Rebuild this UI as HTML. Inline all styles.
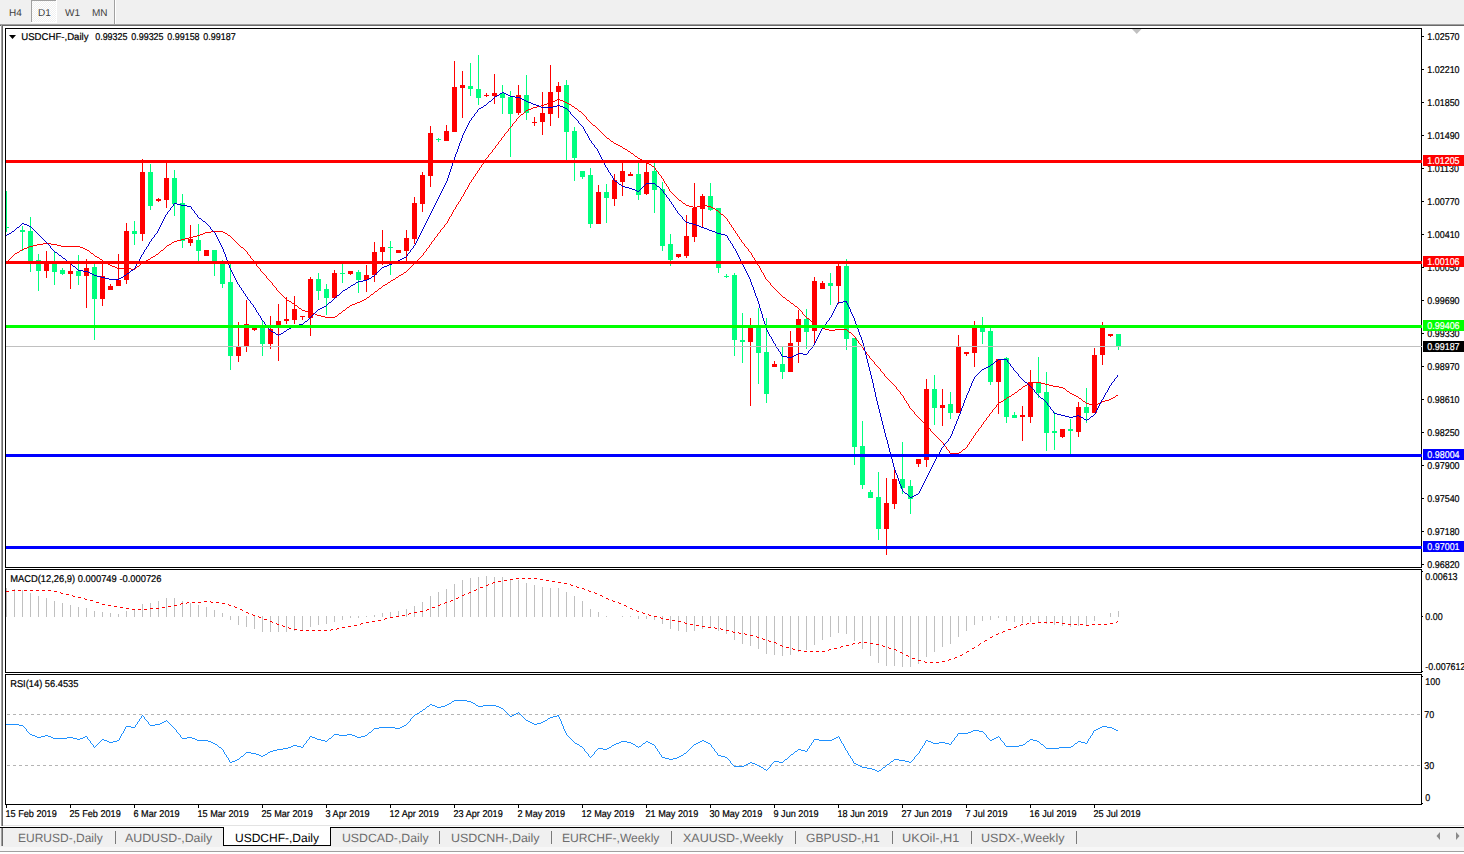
<!DOCTYPE html>
<html><head><meta charset="utf-8"><title>USDCHF Daily</title>
<style>html,body{margin:0;padding:0;background:#fff;}body{width:1464px;height:854px;overflow:hidden;position:relative;font-family:"Liberation Sans",sans-serif;}</style>
</head><body>
<svg width="1464" height="854" viewBox="0 0 1464 854" style="position:absolute;left:0;top:0">
<g shape-rendering="crispEdges">
<rect x="0" y="0" width="1464" height="854" fill="#ffffff"/>
<rect x="0" y="0" width="1464" height="24" fill="#f0f0f0"/>
<defs><pattern id="chk" x="0" y="0" width="2" height="2" patternUnits="userSpaceOnUse"><rect x="0" y="0" width="2" height="2" fill="#ffffff"/><rect x="1" y="0" width="1" height="1" fill="#f0f0f0"/><rect x="0" y="1" width="1" height="1" fill="#f0f0f0"/></pattern></defs>
<rect x="31" y="0" width="26" height="23" fill="url(#chk)"/>
<rect x="31" y="0" width="25" height="1" fill="#a0a0a0"/>
<rect x="31" y="0" width="1" height="22" fill="#a0a0a0"/>
<rect x="56" y="0" width="1" height="23" fill="#ffffff"/>
<rect x="31" y="22" width="26" height="1" fill="#ffffff"/>
<rect x="114" y="0" width="1" height="24" fill="#a0a0a0"/>
<rect x="115" y="0" width="1" height="24" fill="#ffffff"/>
<rect x="0" y="24" width="1464" height="1" fill="#a0a0a0"/>
<rect x="0" y="25" width="1464" height="1" fill="#696969"/>
<rect x="0" y="26" width="1" height="801" fill="#ffffff"/>
<rect x="1" y="24" width="1" height="802" fill="#a0a0a0"/>
<rect x="2" y="25" width="1" height="801" fill="#696969"/>
<rect x="3" y="825" width="1461" height="1" fill="#e3e3e3"/>
<rect x="0" y="827" width="1464" height="1" fill="#000000"/>
<rect x="0" y="828" width="1464" height="19" fill="#f0f0f0"/>
<rect x="1" y="828" width="1" height="18" fill="#a0a0a0"/>
<rect x="2" y="828" width="1" height="18" fill="#696969"/>
<rect x="0" y="847" width="1464" height="4" fill="#f7f7f7"/>
<rect x="0" y="851" width="1464" height="1" fill="#a0a0a0"/>
<rect x="0" y="852" width="1464" height="2" fill="#ffffff"/>
<rect x="223" y="827" width="108" height="19" fill="#ffffff"/>
<rect x="223" y="827" width="1" height="19" fill="#000000"/>
<rect x="330" y="827" width="1" height="19" fill="#000000"/>
<rect x="223" y="845" width="108" height="1" fill="#000000"/>
<rect x="224" y="827" width="106" height="1" fill="#ffffff"/>
<rect x="115" y="831" width="1" height="13" fill="#7a7a7a"/>
<rect x="439" y="831" width="1" height="13" fill="#7a7a7a"/>
<rect x="551" y="831" width="1" height="13" fill="#7a7a7a"/>
<rect x="671" y="831" width="1" height="13" fill="#7a7a7a"/>
<rect x="795" y="831" width="1" height="13" fill="#7a7a7a"/>
<rect x="892" y="831" width="1" height="13" fill="#7a7a7a"/>
<rect x="971" y="831" width="1" height="13" fill="#7a7a7a"/>
<rect x="1076" y="831" width="1" height="13" fill="#7a7a7a"/>
</g>
<path d="M1436.5,836 L1440,832 L1440,840 Z" fill="#8a8a8a"/>
<path d="M1459.5,836 L1456,832 L1456,840 Z" fill="#8a8a8a"/>
<g shape-rendering="crispEdges" fill="none" stroke="#000" stroke-width="1">
<rect x="5.5" y="28.5" width="1416" height="539"/>
<rect x="5.5" y="569.5" width="1416" height="103"/>
<rect x="5.5" y="674.5" width="1416" height="130"/>
</g>
<defs><clipPath id="cm"><rect x="6" y="29" width="1415" height="538"/></clipPath><clipPath id="cd"><rect x="6" y="570" width="1415" height="102"/></clipPath><clipPath id="cr"><rect x="6" y="675" width="1415" height="129"/></clipPath></defs>
<g clip-path="url(#cm)">
<path d="M1132,29 L1141.5,29 L1136.75,34 Z" fill="#c0c0c0"/>
<rect x="6" y="346" width="1415" height="1" fill="#c0c0c0" shape-rendering="crispEdges"/>
<g shape-rendering="crispEdges">
<rect x="6" y="191" width="1" height="41" fill="#00ff7f"/>
<rect x="4" y="227" width="5" height="1" fill="#00ff7f"/>
<rect x="22" y="226" width="1" height="25" fill="#00ff7f"/>
<rect x="20" y="230" width="5" height="2" fill="#00ff7f"/>
<rect x="30" y="217" width="1" height="55" fill="#00ff7f"/>
<rect x="28" y="231" width="5" height="30" fill="#00ff7f"/>
<rect x="38" y="254" width="1" height="37" fill="#00ff7f"/>
<rect x="36" y="260" width="5" height="11" fill="#00ff7f"/>
<rect x="46" y="251" width="1" height="27" fill="#ff0000"/>
<rect x="44" y="263" width="5" height="8" fill="#ff0000"/>
<rect x="54" y="252" width="1" height="33" fill="#00ff7f"/>
<rect x="52" y="264" width="5" height="8" fill="#00ff7f"/>
<rect x="62" y="268" width="1" height="7" fill="#00ff7f"/>
<rect x="60" y="270" width="5" height="4" fill="#00ff7f"/>
<rect x="70" y="264" width="1" height="25" fill="#ff0000"/>
<rect x="68" y="271" width="5" height="3" fill="#ff0000"/>
<rect x="78" y="255" width="1" height="30" fill="#00ff7f"/>
<rect x="76" y="271" width="5" height="5" fill="#00ff7f"/>
<rect x="86" y="259" width="1" height="49" fill="#ff0000"/>
<rect x="84" y="268" width="5" height="8" fill="#ff0000"/>
<rect x="94" y="264" width="1" height="76" fill="#00ff7f"/>
<rect x="92" y="267" width="5" height="32" fill="#00ff7f"/>
<rect x="102" y="264" width="1" height="42" fill="#ff0000"/>
<rect x="100" y="276" width="5" height="23" fill="#ff0000"/>
<rect x="110" y="284" width="1" height="6" fill="#ff0000"/>
<rect x="108" y="286" width="5" height="4" fill="#ff0000"/>
<rect x="118" y="254" width="1" height="32" fill="#ff0000"/>
<rect x="116" y="280" width="5" height="6" fill="#ff0000"/>
<rect x="126" y="223" width="1" height="61" fill="#ff0000"/>
<rect x="124" y="231" width="5" height="49" fill="#ff0000"/>
<rect x="134" y="221" width="1" height="24" fill="#00ff7f"/>
<rect x="132" y="231" width="5" height="3" fill="#00ff7f"/>
<rect x="142" y="159" width="1" height="82" fill="#ff0000"/>
<rect x="140" y="172" width="5" height="62" fill="#ff0000"/>
<rect x="150" y="164" width="1" height="46" fill="#00ff7f"/>
<rect x="148" y="172" width="5" height="34" fill="#00ff7f"/>
<rect x="158" y="198" width="1" height="4" fill="#ff0000"/>
<rect x="156" y="199" width="5" height="2" fill="#ff0000"/>
<rect x="166" y="162" width="1" height="46" fill="#ff0000"/>
<rect x="164" y="178" width="5" height="22" fill="#ff0000"/>
<rect x="174" y="170" width="1" height="46" fill="#00ff7f"/>
<rect x="172" y="178" width="5" height="26" fill="#00ff7f"/>
<rect x="182" y="194" width="1" height="54" fill="#00ff7f"/>
<rect x="180" y="203" width="5" height="38" fill="#00ff7f"/>
<rect x="190" y="225" width="1" height="21" fill="#ff0000"/>
<rect x="188" y="239" width="5" height="4" fill="#ff0000"/>
<rect x="198" y="224" width="1" height="37" fill="#00ff7f"/>
<rect x="196" y="240" width="5" height="11" fill="#00ff7f"/>
<rect x="206" y="250" width="1" height="6" fill="#ff0000"/>
<rect x="204" y="250" width="5" height="6" fill="#ff0000"/>
<rect x="214" y="250" width="1" height="26" fill="#00ff7f"/>
<rect x="212" y="250" width="5" height="11" fill="#00ff7f"/>
<rect x="222" y="260" width="1" height="28" fill="#00ff7f"/>
<rect x="220" y="263" width="5" height="21" fill="#00ff7f"/>
<rect x="230" y="264" width="1" height="106" fill="#00ff7f"/>
<rect x="228" y="282" width="5" height="74" fill="#00ff7f"/>
<rect x="238" y="322" width="1" height="40" fill="#ff0000"/>
<rect x="236" y="346" width="5" height="10" fill="#ff0000"/>
<rect x="246" y="300" width="1" height="52" fill="#ff0000"/>
<rect x="244" y="324" width="5" height="22" fill="#ff0000"/>
<rect x="254" y="328" width="1" height="3" fill="#ff0000"/>
<rect x="252" y="328" width="5" height="2" fill="#ff0000"/>
<rect x="262" y="320" width="1" height="36" fill="#00ff7f"/>
<rect x="260" y="326" width="5" height="18" fill="#00ff7f"/>
<rect x="270" y="316" width="1" height="33" fill="#ff0000"/>
<rect x="268" y="329" width="5" height="15" fill="#ff0000"/>
<rect x="278" y="304" width="1" height="57" fill="#ff0000"/>
<rect x="276" y="321" width="5" height="7" fill="#ff0000"/>
<rect x="286" y="297" width="1" height="27" fill="#ff0000"/>
<rect x="284" y="319" width="5" height="2" fill="#ff0000"/>
<rect x="294" y="296" width="1" height="28" fill="#ff0000"/>
<rect x="292" y="309" width="5" height="11" fill="#ff0000"/>
<rect x="302" y="316" width="1" height="4" fill="#ff0000"/>
<rect x="300" y="316" width="5" height="1" fill="#ff0000"/>
<rect x="310" y="277" width="1" height="59" fill="#ff0000"/>
<rect x="308" y="279" width="5" height="39" fill="#ff0000"/>
<rect x="318" y="273" width="1" height="27" fill="#00ff7f"/>
<rect x="316" y="279" width="5" height="12" fill="#00ff7f"/>
<rect x="326" y="284" width="1" height="31" fill="#00ff7f"/>
<rect x="324" y="289" width="5" height="9" fill="#00ff7f"/>
<rect x="334" y="270" width="1" height="28" fill="#ff0000"/>
<rect x="332" y="273" width="5" height="25" fill="#ff0000"/>
<rect x="342" y="264" width="1" height="19" fill="#00ff7f"/>
<rect x="340" y="273" width="5" height="1" fill="#00ff7f"/>
<rect x="350" y="271" width="1" height="4" fill="#ff0000"/>
<rect x="348" y="271" width="5" height="3" fill="#ff0000"/>
<rect x="358" y="270" width="1" height="23" fill="#00ff7f"/>
<rect x="356" y="272" width="5" height="8" fill="#00ff7f"/>
<rect x="366" y="265" width="1" height="27" fill="#ff0000"/>
<rect x="364" y="275" width="5" height="5" fill="#ff0000"/>
<rect x="374" y="242" width="1" height="40" fill="#ff0000"/>
<rect x="372" y="252" width="5" height="23" fill="#ff0000"/>
<rect x="382" y="230" width="1" height="35" fill="#ff0000"/>
<rect x="380" y="247" width="5" height="5" fill="#ff0000"/>
<rect x="390" y="241" width="1" height="34" fill="#00ff7f"/>
<rect x="388" y="247" width="5" height="1" fill="#00ff7f"/>
<rect x="398" y="250" width="1" height="3" fill="#ff0000"/>
<rect x="396" y="250" width="5" height="3" fill="#ff0000"/>
<rect x="406" y="230" width="1" height="34" fill="#ff0000"/>
<rect x="404" y="238" width="5" height="13" fill="#ff0000"/>
<rect x="414" y="197" width="1" height="47" fill="#ff0000"/>
<rect x="412" y="203" width="5" height="36" fill="#ff0000"/>
<rect x="422" y="172" width="1" height="40" fill="#ff0000"/>
<rect x="420" y="175" width="5" height="29" fill="#ff0000"/>
<rect x="430" y="126" width="1" height="61" fill="#ff0000"/>
<rect x="428" y="133" width="5" height="43" fill="#ff0000"/>
<rect x="438" y="138" width="1" height="4" fill="#00ff7f"/>
<rect x="436" y="139" width="5" height="1" fill="#00ff7f"/>
<rect x="446" y="125" width="1" height="16" fill="#ff0000"/>
<rect x="444" y="131" width="5" height="10" fill="#ff0000"/>
<rect x="454" y="61" width="1" height="71" fill="#ff0000"/>
<rect x="452" y="87" width="5" height="45" fill="#ff0000"/>
<rect x="462" y="71" width="1" height="47" fill="#ff0000"/>
<rect x="460" y="85" width="5" height="3" fill="#ff0000"/>
<rect x="470" y="63" width="1" height="33" fill="#00ff7f"/>
<rect x="468" y="86" width="5" height="3" fill="#00ff7f"/>
<rect x="478" y="55" width="1" height="50" fill="#00ff7f"/>
<rect x="476" y="89" width="5" height="9" fill="#00ff7f"/>
<rect x="486" y="93" width="1" height="4" fill="#ff0000"/>
<rect x="484" y="95" width="5" height="1" fill="#ff0000"/>
<rect x="494" y="74" width="1" height="30" fill="#ff0000"/>
<rect x="492" y="93" width="5" height="3" fill="#ff0000"/>
<rect x="502" y="85" width="1" height="29" fill="#00ff7f"/>
<rect x="500" y="93" width="5" height="5" fill="#00ff7f"/>
<rect x="510" y="91" width="1" height="66" fill="#00ff7f"/>
<rect x="508" y="97" width="5" height="17" fill="#00ff7f"/>
<rect x="518" y="85" width="1" height="30" fill="#ff0000"/>
<rect x="516" y="95" width="5" height="18" fill="#ff0000"/>
<rect x="526" y="75" width="1" height="45" fill="#00ff7f"/>
<rect x="524" y="95" width="5" height="18" fill="#00ff7f"/>
<rect x="534" y="117" width="1" height="9" fill="#ff0000"/>
<rect x="532" y="122" width="5" height="1" fill="#ff0000"/>
<rect x="542" y="92" width="1" height="43" fill="#ff0000"/>
<rect x="540" y="113" width="5" height="9" fill="#ff0000"/>
<rect x="550" y="65" width="1" height="61" fill="#ff0000"/>
<rect x="548" y="92" width="5" height="22" fill="#ff0000"/>
<rect x="558" y="82" width="1" height="36" fill="#ff0000"/>
<rect x="556" y="86" width="5" height="6" fill="#ff0000"/>
<rect x="566" y="80" width="1" height="81" fill="#00ff7f"/>
<rect x="564" y="85" width="5" height="47" fill="#00ff7f"/>
<rect x="574" y="127" width="1" height="54" fill="#00ff7f"/>
<rect x="572" y="131" width="5" height="27" fill="#00ff7f"/>
<rect x="582" y="171" width="1" height="8" fill="#00ff7f"/>
<rect x="580" y="171" width="5" height="6" fill="#00ff7f"/>
<rect x="590" y="168" width="1" height="60" fill="#00ff7f"/>
<rect x="588" y="175" width="5" height="49" fill="#00ff7f"/>
<rect x="598" y="185" width="1" height="39" fill="#ff0000"/>
<rect x="596" y="192" width="5" height="32" fill="#ff0000"/>
<rect x="606" y="184" width="1" height="39" fill="#00ff7f"/>
<rect x="604" y="192" width="5" height="6" fill="#00ff7f"/>
<rect x="614" y="174" width="1" height="32" fill="#ff0000"/>
<rect x="612" y="180" width="5" height="19" fill="#ff0000"/>
<rect x="622" y="162" width="1" height="34" fill="#ff0000"/>
<rect x="620" y="171" width="5" height="11" fill="#ff0000"/>
<rect x="630" y="172" width="1" height="4" fill="#ff0000"/>
<rect x="628" y="174" width="5" height="2" fill="#ff0000"/>
<rect x="638" y="162" width="1" height="38" fill="#00ff7f"/>
<rect x="636" y="174" width="5" height="21" fill="#00ff7f"/>
<rect x="646" y="162" width="1" height="33" fill="#ff0000"/>
<rect x="644" y="172" width="5" height="22" fill="#ff0000"/>
<rect x="654" y="163" width="1" height="50" fill="#00ff7f"/>
<rect x="652" y="171" width="5" height="19" fill="#00ff7f"/>
<rect x="662" y="182" width="1" height="69" fill="#00ff7f"/>
<rect x="660" y="189" width="5" height="57" fill="#00ff7f"/>
<rect x="670" y="234" width="1" height="32" fill="#00ff7f"/>
<rect x="668" y="244" width="5" height="16" fill="#00ff7f"/>
<rect x="678" y="254" width="1" height="4" fill="#ff0000"/>
<rect x="676" y="254" width="5" height="3" fill="#ff0000"/>
<rect x="686" y="215" width="1" height="43" fill="#ff0000"/>
<rect x="684" y="236" width="5" height="20" fill="#ff0000"/>
<rect x="694" y="183" width="1" height="59" fill="#ff0000"/>
<rect x="692" y="208" width="5" height="29" fill="#ff0000"/>
<rect x="702" y="194" width="1" height="33" fill="#ff0000"/>
<rect x="700" y="196" width="5" height="13" fill="#ff0000"/>
<rect x="710" y="183" width="1" height="28" fill="#00ff7f"/>
<rect x="708" y="196" width="5" height="14" fill="#00ff7f"/>
<rect x="718" y="208" width="1" height="65" fill="#00ff7f"/>
<rect x="716" y="208" width="5" height="60" fill="#00ff7f"/>
<rect x="726" y="274" width="1" height="4" fill="#00ff7f"/>
<rect x="724" y="276" width="5" height="1" fill="#00ff7f"/>
<rect x="734" y="273" width="1" height="83" fill="#00ff7f"/>
<rect x="732" y="275" width="5" height="65" fill="#00ff7f"/>
<rect x="742" y="313" width="1" height="50" fill="#00ff7f"/>
<rect x="740" y="340" width="5" height="2" fill="#00ff7f"/>
<rect x="750" y="318" width="1" height="88" fill="#ff0000"/>
<rect x="748" y="328" width="5" height="14" fill="#ff0000"/>
<rect x="758" y="308" width="1" height="76" fill="#00ff7f"/>
<rect x="756" y="326" width="5" height="27" fill="#00ff7f"/>
<rect x="766" y="318" width="1" height="85" fill="#00ff7f"/>
<rect x="764" y="352" width="5" height="42" fill="#00ff7f"/>
<rect x="774" y="361" width="1" height="6" fill="#ff0000"/>
<rect x="772" y="364" width="5" height="3" fill="#ff0000"/>
<rect x="782" y="346" width="1" height="33" fill="#00ff7f"/>
<rect x="780" y="364" width="5" height="8" fill="#00ff7f"/>
<rect x="790" y="331" width="1" height="41" fill="#ff0000"/>
<rect x="788" y="343" width="5" height="29" fill="#ff0000"/>
<rect x="798" y="310" width="1" height="53" fill="#ff0000"/>
<rect x="796" y="319" width="5" height="23" fill="#ff0000"/>
<rect x="806" y="309" width="1" height="40" fill="#00ff7f"/>
<rect x="804" y="319" width="5" height="13" fill="#00ff7f"/>
<rect x="814" y="277" width="1" height="66" fill="#ff0000"/>
<rect x="812" y="281" width="5" height="50" fill="#ff0000"/>
<rect x="822" y="281" width="1" height="8" fill="#ff0000"/>
<rect x="820" y="283" width="5" height="6" fill="#ff0000"/>
<rect x="830" y="273" width="1" height="32" fill="#00ff7f"/>
<rect x="828" y="283" width="5" height="3" fill="#00ff7f"/>
<rect x="838" y="264" width="1" height="40" fill="#ff0000"/>
<rect x="836" y="266" width="5" height="20" fill="#ff0000"/>
<rect x="846" y="259" width="1" height="91" fill="#00ff7f"/>
<rect x="844" y="266" width="5" height="73" fill="#00ff7f"/>
<rect x="854" y="338" width="1" height="127" fill="#00ff7f"/>
<rect x="852" y="338" width="5" height="109" fill="#00ff7f"/>
<rect x="862" y="421" width="1" height="68" fill="#00ff7f"/>
<rect x="860" y="446" width="5" height="39" fill="#00ff7f"/>
<rect x="870" y="490" width="1" height="8" fill="#00ff7f"/>
<rect x="868" y="492" width="5" height="6" fill="#00ff7f"/>
<rect x="878" y="472" width="1" height="68" fill="#00ff7f"/>
<rect x="876" y="497" width="5" height="32" fill="#00ff7f"/>
<rect x="886" y="478" width="1" height="77" fill="#ff0000"/>
<rect x="884" y="503" width="5" height="26" fill="#ff0000"/>
<rect x="894" y="470" width="1" height="39" fill="#ff0000"/>
<rect x="892" y="479" width="5" height="25" fill="#ff0000"/>
<rect x="902" y="442" width="1" height="52" fill="#00ff7f"/>
<rect x="900" y="479" width="5" height="9" fill="#00ff7f"/>
<rect x="910" y="480" width="1" height="34" fill="#00ff7f"/>
<rect x="908" y="486" width="5" height="13" fill="#00ff7f"/>
<rect x="918" y="459" width="1" height="8" fill="#ff0000"/>
<rect x="916" y="459" width="5" height="5" fill="#ff0000"/>
<rect x="926" y="379" width="1" height="88" fill="#ff0000"/>
<rect x="924" y="389" width="5" height="71" fill="#ff0000"/>
<rect x="934" y="375" width="1" height="50" fill="#00ff7f"/>
<rect x="932" y="389" width="5" height="19" fill="#00ff7f"/>
<rect x="942" y="389" width="1" height="37" fill="#ff0000"/>
<rect x="940" y="405" width="5" height="3" fill="#ff0000"/>
<rect x="950" y="392" width="1" height="27" fill="#00ff7f"/>
<rect x="948" y="404" width="5" height="9" fill="#00ff7f"/>
<rect x="958" y="335" width="1" height="78" fill="#ff0000"/>
<rect x="956" y="347" width="5" height="66" fill="#ff0000"/>
<rect x="966" y="352" width="1" height="4" fill="#ff0000"/>
<rect x="964" y="352" width="5" height="2" fill="#ff0000"/>
<rect x="974" y="321" width="1" height="46" fill="#ff0000"/>
<rect x="972" y="328" width="5" height="25" fill="#ff0000"/>
<rect x="982" y="317" width="1" height="27" fill="#00ff7f"/>
<rect x="980" y="328" width="5" height="4" fill="#00ff7f"/>
<rect x="990" y="328" width="1" height="57" fill="#00ff7f"/>
<rect x="988" y="331" width="5" height="51" fill="#00ff7f"/>
<rect x="998" y="359" width="1" height="55" fill="#ff0000"/>
<rect x="996" y="359" width="5" height="23" fill="#ff0000"/>
<rect x="1006" y="357" width="1" height="66" fill="#00ff7f"/>
<rect x="1004" y="358" width="5" height="59" fill="#00ff7f"/>
<rect x="1014" y="412" width="1" height="6" fill="#00ff7f"/>
<rect x="1012" y="415" width="5" height="3" fill="#00ff7f"/>
<rect x="1022" y="406" width="1" height="35" fill="#ff0000"/>
<rect x="1020" y="415" width="5" height="2" fill="#ff0000"/>
<rect x="1030" y="370" width="1" height="53" fill="#ff0000"/>
<rect x="1028" y="382" width="5" height="35" fill="#ff0000"/>
<rect x="1038" y="357" width="1" height="41" fill="#00ff7f"/>
<rect x="1036" y="383" width="5" height="10" fill="#00ff7f"/>
<rect x="1046" y="372" width="1" height="79" fill="#00ff7f"/>
<rect x="1044" y="392" width="5" height="41" fill="#00ff7f"/>
<rect x="1054" y="412" width="1" height="38" fill="#00ff7f"/>
<rect x="1052" y="431" width="5" height="2" fill="#00ff7f"/>
<rect x="1062" y="429" width="1" height="9" fill="#ff0000"/>
<rect x="1060" y="429" width="5" height="8" fill="#ff0000"/>
<rect x="1070" y="419" width="1" height="35" fill="#00ff7f"/>
<rect x="1068" y="429" width="5" height="2" fill="#00ff7f"/>
<rect x="1078" y="402" width="1" height="35" fill="#ff0000"/>
<rect x="1076" y="407" width="5" height="25" fill="#ff0000"/>
<rect x="1086" y="388" width="1" height="35" fill="#00ff7f"/>
<rect x="1084" y="407" width="5" height="6" fill="#00ff7f"/>
<rect x="1094" y="348" width="1" height="65" fill="#ff0000"/>
<rect x="1092" y="355" width="5" height="58" fill="#ff0000"/>
<rect x="1102" y="322" width="1" height="43" fill="#ff0000"/>
<rect x="1100" y="328" width="5" height="27" fill="#ff0000"/>
<rect x="1110" y="334" width="1" height="3" fill="#ff0000"/>
<rect x="1108" y="334" width="5" height="2" fill="#ff0000"/>
<rect x="1118" y="334" width="1" height="16" fill="#00ff7f"/>
<rect x="1116" y="334" width="5" height="13" fill="#00ff7f"/>
</g>
<path d="M557 99h3v1h-3zM555 100h2v1h-2zM560 100h3v1h-3zM552 101h3v1h-3zM563 101h2v1h-2zM549 102h3v1h-3zM565 102h2v1h-2zM547 103h2v1h-2zM567 103h2v1h-2zM544 104h3v1h-3zM569 104h2v1h-2zM541 105h3v1h-3zM571 105h1v1h-1zM537 106h4v1h-4zM572 106h2v1h-2zM533 107h4v1h-4zM574 107h1v1h-1zM531 108h2v1h-2zM575 108h2v1h-2zM528 109h3v1h-3zM577 109h1v1h-1zM526 110h2v1h-2zM578 110h1v1h-1zM525 111h1v1h-1zM579 111h2v1h-2zM524 112h1v1h-1zM581 112h1v1h-1zM523 113h1v1h-1zM582 113h1v1h-1zM521 114h2v1h-2zM583 114h1v1h-1zM520 115h1v1h-1zM584 115h1v1h-1zM519 116h1v1h-1zM585 116h1v1h-1zM518 117h1v1h-1zM586 117h1v1h-1zM517 118h1v1h-1zM586 118h1v1h-1zM516 119h1v1h-1zM587 119h1v1h-1zM516 120h1v1h-1zM588 120h1v1h-1zM515 121h1v1h-1zM589 121h1v1h-1zM514 122h1v1h-1zM590 122h1v1h-1zM513 123h1v1h-1zM591 123h1v1h-1zM512 124h1v1h-1zM592 124h1v1h-1zM512 125h1v1h-1zM593 125h2v1h-2zM511 126h1v1h-1zM595 126h1v1h-1zM510 127h1v1h-1zM596 127h1v1h-1zM509 128h1v1h-1zM597 128h1v1h-1zM508 129h1v1h-1zM598 129h1v1h-1zM508 130h1v1h-1zM599 130h1v1h-1zM507 131h1v1h-1zM600 131h1v1h-1zM506 132h1v1h-1zM601 132h1v1h-1zM505 133h1v1h-1zM602 133h1v1h-1zM504 134h1v1h-1zM603 134h1v1h-1zM504 135h1v1h-1zM604 135h1v1h-1zM503 136h1v1h-1zM605 136h1v1h-1zM502 137h1v1h-1zM606 137h1v1h-1zM501 138h1v1h-1zM607 138h2v1h-2zM501 139h1v1h-1zM609 139h1v1h-1zM500 140h1v1h-1zM610 140h1v1h-1zM499 141h1v1h-1zM611 141h2v1h-2zM498 142h1v1h-1zM613 142h1v1h-1zM498 143h1v1h-1zM614 143h2v1h-2zM497 144h1v1h-1zM616 144h2v1h-2zM496 145h1v1h-1zM618 145h2v1h-2zM495 146h1v1h-1zM620 146h2v1h-2zM495 147h1v1h-1zM622 147h1v1h-1zM494 148h1v1h-1zM623 148h2v1h-2zM493 149h1v1h-1zM625 149h2v1h-2zM492 150h1v1h-1zM627 150h1v1h-1zM492 151h1v1h-1zM628 151h2v1h-2zM491 152h1v1h-1zM630 152h1v1h-1zM490 153h1v1h-1zM631 153h2v1h-2zM489 154h1v1h-1zM633 154h1v1h-1zM488 155h1v1h-1zM634 155h1v1h-1zM488 156h1v1h-1zM635 156h2v1h-2zM487 157h1v1h-1zM637 157h1v1h-1zM486 158h1v1h-1zM638 158h2v1h-2zM485 159h1v1h-1zM640 159h2v1h-2zM485 160h1v1h-1zM642 160h2v1h-2zM484 161h1v1h-1zM644 161h2v1h-2zM483 162h1v1h-1zM646 162h1v1h-1zM483 163h1v1h-1zM647 163h2v1h-2zM482 164h1v1h-1zM649 164h2v1h-2zM481 165h1v1h-1zM651 165h1v1h-1zM481 166h1v1h-1zM652 166h2v1h-2zM480 167h1v1h-1zM654 167h1v1h-1zM479 168h1v1h-1zM655 168h1v1h-1zM479 169h1v1h-1zM655 169h1v1h-1zM478 170h1v1h-1zM656 170h1v1h-1zM477 171h1v1h-1zM657 171h1v1h-1zM477 172h1v1h-1zM658 172h1v1h-1zM476 173h1v1h-1zM658 173h1v1h-1zM475 174h1v1h-1zM659 174h1v1h-1zM475 175h1v1h-1zM660 175h1v1h-1zM474 176h1v1h-1zM661 176h1v1h-1zM473 177h1v1h-1zM661 177h1v1h-1zM473 178h1v1h-1zM662 178h1v1h-1zM472 179h1v1h-1zM663 179h1v1h-1zM471 180h1v1h-1zM663 180h1v1h-1zM471 181h1v1h-1zM664 181h1v1h-1zM470 182h1v1h-1zM664 182h1v1h-1zM469 183h1v1h-1zM665 183h1v1h-1zM469 184h1v1h-1zM666 184h1v1h-1zM468 185h1v1h-1zM666 185h1v1h-1zM468 186h1v1h-1zM667 186h1v1h-1zM467 187h1v1h-1zM668 187h1v1h-1zM467 188h1v1h-1zM668 188h1v1h-1zM466 189h1v1h-1zM669 189h1v1h-1zM465 190h1v1h-1zM669 190h1v1h-1zM465 191h1v1h-1zM670 191h1v1h-1zM464 192h1v1h-1zM671 192h1v1h-1zM464 193h1v1h-1zM672 193h1v1h-1zM463 194h1v1h-1zM673 194h1v1h-1zM463 195h1v1h-1zM674 195h1v1h-1zM462 196h1v1h-1zM675 196h1v1h-1zM461 197h1v1h-1zM676 197h1v1h-1zM461 198h1v1h-1zM677 198h1v1h-1zM460 199h1v1h-1zM678 199h1v1h-1zM460 200h1v1h-1zM679 200h2v1h-2zM459 201h1v1h-1zM681 201h1v1h-1zM458 202h1v1h-1zM682 202h1v1h-1zM458 203h1v1h-1zM683 203h2v1h-2zM457 204h1v1h-1zM685 204h1v1h-1zM456 205h1v1h-1zM686 205h3v1h-3zM701 205h6v1h-6zM456 206h1v1h-1zM689 206h4v1h-4zM697 206h4v1h-4zM707 206h4v1h-4zM455 207h1v1h-1zM693 207h4v1h-4zM711 207h2v1h-2zM455 208h1v1h-1zM713 208h2v1h-2zM454 209h1v1h-1zM715 209h1v1h-1zM453 210h1v1h-1zM716 210h2v1h-2zM453 211h1v1h-1zM718 211h1v1h-1zM452 212h1v1h-1zM719 212h1v1h-1zM452 213h1v1h-1zM720 213h1v1h-1zM451 214h1v1h-1zM721 214h2v1h-2zM451 215h1v1h-1zM723 215h1v1h-1zM450 216h1v1h-1zM724 216h1v1h-1zM449 217h1v1h-1zM725 217h1v1h-1zM449 218h1v1h-1zM726 218h1v1h-1zM448 219h1v1h-1zM727 219h1v1h-1zM448 220h1v1h-1zM727 220h1v1h-1zM447 221h1v1h-1zM728 221h1v1h-1zM447 222h1v1h-1zM729 222h1v1h-1zM446 223h1v1h-1zM729 223h1v1h-1zM445 224h1v1h-1zM730 224h1v1h-1zM444 225h1v1h-1zM731 225h1v1h-1zM444 226h1v1h-1zM731 226h1v1h-1zM443 227h1v1h-1zM732 227h1v1h-1zM442 228h1v1h-1zM733 228h1v1h-1zM441 229h1v1h-1zM733 229h1v1h-1zM440 230h1v1h-1zM734 230h1v1h-1zM211 231h12v1h-12zM440 231h1v1h-1zM735 231h1v1h-1zM205 232h6v1h-6zM223 232h2v1h-2zM439 232h1v1h-1zM735 232h1v1h-1zM203 233h2v1h-2zM225 233h2v1h-2zM438 233h1v1h-1zM736 233h1v1h-1zM200 234h3v1h-3zM227 234h1v1h-1zM437 234h1v1h-1zM737 234h1v1h-1zM197 235h3v1h-3zM228 235h2v1h-2zM437 235h1v1h-1zM737 235h1v1h-1zM193 236h4v1h-4zM230 236h1v1h-1zM436 236h1v1h-1zM738 236h1v1h-1zM189 237h4v1h-4zM231 237h1v1h-1zM435 237h1v1h-1zM739 237h1v1h-1zM185 238h4v1h-4zM232 238h1v1h-1zM434 238h1v1h-1zM739 238h1v1h-1zM181 239h4v1h-4zM233 239h1v1h-1zM434 239h1v1h-1zM740 239h1v1h-1zM177 240h4v1h-4zM234 240h1v1h-1zM433 240h1v1h-1zM741 240h1v1h-1zM174 241h3v1h-3zM235 241h1v1h-1zM432 241h1v1h-1zM741 241h1v1h-1zM172 242h2v1h-2zM236 242h1v1h-1zM431 242h1v1h-1zM742 242h1v1h-1zM43 243h8v1h-8zM171 243h1v1h-1zM237 243h1v1h-1zM431 243h1v1h-1zM743 243h1v1h-1zM37 244h6v1h-6zM51 244h6v1h-6zM169 244h2v1h-2zM238 244h1v1h-1zM430 244h1v1h-1zM744 244h1v1h-1zM33 245h4v1h-4zM57 245h4v1h-4zM167 245h2v1h-2zM239 245h1v1h-1zM429 245h1v1h-1zM744 245h1v1h-1zM29 246h4v1h-4zM61 246h19v1h-19zM166 246h1v1h-1zM240 246h1v1h-1zM429 246h1v1h-1zM745 246h1v1h-1zM27 247h2v1h-2zM80 247h3v1h-3zM165 247h1v1h-1zM241 247h2v1h-2zM428 247h1v1h-1zM746 247h1v1h-1zM24 248h3v1h-3zM83 248h2v1h-2zM164 248h1v1h-1zM243 248h1v1h-1zM427 248h1v1h-1zM747 248h1v1h-1zM22 249h2v1h-2zM85 249h2v1h-2zM163 249h1v1h-1zM244 249h1v1h-1zM426 249h1v1h-1zM748 249h1v1h-1zM20 250h2v1h-2zM87 250h2v1h-2zM161 250h2v1h-2zM245 250h1v1h-1zM426 250h1v1h-1zM748 250h1v1h-1zM19 251h1v1h-1zM89 251h1v1h-1zM160 251h1v1h-1zM246 251h1v1h-1zM425 251h1v1h-1zM749 251h1v1h-1zM17 252h2v1h-2zM90 252h1v1h-1zM159 252h1v1h-1zM247 252h1v1h-1zM424 252h1v1h-1zM750 252h1v1h-1zM15 253h2v1h-2zM91 253h2v1h-2zM158 253h1v1h-1zM247 253h1v1h-1zM423 253h1v1h-1zM751 253h1v1h-1zM14 254h1v1h-1zM93 254h1v1h-1zM156 254h2v1h-2zM248 254h1v1h-1zM423 254h1v1h-1zM751 254h1v1h-1zM13 255h1v1h-1zM94 255h1v1h-1zM155 255h1v1h-1zM249 255h1v1h-1zM422 255h1v1h-1zM752 255h1v1h-1zM12 256h1v1h-1zM95 256h2v1h-2zM153 256h2v1h-2zM250 256h1v1h-1zM421 256h1v1h-1zM752 256h1v1h-1zM11 257h1v1h-1zM97 257h2v1h-2zM151 257h2v1h-2zM250 257h1v1h-1zM420 257h1v1h-1zM753 257h1v1h-1zM10 258h1v1h-1zM99 258h1v1h-1zM150 258h1v1h-1zM251 258h1v1h-1zM419 258h1v1h-1zM754 258h1v1h-1zM9 259h1v1h-1zM100 259h2v1h-2zM148 259h2v1h-2zM252 259h1v1h-1zM418 259h1v1h-1zM754 259h1v1h-1zM8 260h1v1h-1zM102 260h1v1h-1zM146 260h2v1h-2zM253 260h1v1h-1zM417 260h1v1h-1zM755 260h1v1h-1zM7 261h1v1h-1zM103 261h2v1h-2zM144 261h2v1h-2zM253 261h1v1h-1zM416 261h1v1h-1zM756 261h1v1h-1zM6 262h1v1h-1zM105 262h2v1h-2zM142 262h2v1h-2zM254 262h1v1h-1zM415 262h1v1h-1zM756 262h1v1h-1zM107 263h1v1h-1zM141 263h1v1h-1zM255 263h1v1h-1zM414 263h1v1h-1zM757 263h1v1h-1zM108 264h2v1h-2zM140 264h1v1h-1zM256 264h1v1h-1zM413 264h1v1h-1zM757 264h1v1h-1zM110 265h2v1h-2zM139 265h1v1h-1zM256 265h1v1h-1zM412 265h1v1h-1zM758 265h1v1h-1zM112 266h3v1h-3zM137 266h2v1h-2zM257 266h1v1h-1zM411 266h1v1h-1zM759 266h1v1h-1zM115 267h2v1h-2zM136 267h1v1h-1zM258 267h1v1h-1zM410 267h1v1h-1zM759 267h1v1h-1zM117 268h14v1h-14zM135 268h1v1h-1zM259 268h1v1h-1zM409 268h1v1h-1zM760 268h1v1h-1zM131 269h4v1h-4zM260 269h1v1h-1zM408 269h1v1h-1zM760 269h1v1h-1zM260 270h1v1h-1zM407 270h1v1h-1zM761 270h1v1h-1zM261 271h1v1h-1zM406 271h1v1h-1zM761 271h1v1h-1zM262 272h1v1h-1zM404 272h2v1h-2zM762 272h1v1h-1zM263 273h1v1h-1zM403 273h1v1h-1zM763 273h1v1h-1zM264 274h1v1h-1zM401 274h2v1h-2zM763 274h1v1h-1zM265 275h1v1h-1zM399 275h2v1h-2zM764 275h1v1h-1zM266 276h1v1h-1zM398 276h1v1h-1zM764 276h1v1h-1zM266 277h1v1h-1zM396 277h2v1h-2zM765 277h1v1h-1zM267 278h1v1h-1zM395 278h1v1h-1zM765 278h1v1h-1zM268 279h1v1h-1zM393 279h2v1h-2zM766 279h1v1h-1zM269 280h1v1h-1zM391 280h2v1h-2zM767 280h1v1h-1zM270 281h1v1h-1zM390 281h1v1h-1zM768 281h1v1h-1zM271 282h1v1h-1zM388 282h2v1h-2zM769 282h1v1h-1zM272 283h1v1h-1zM387 283h1v1h-1zM770 283h1v1h-1zM272 284h1v1h-1zM385 284h2v1h-2zM770 284h1v1h-1zM273 285h1v1h-1zM383 285h2v1h-2zM771 285h1v1h-1zM274 286h1v1h-1zM382 286h1v1h-1zM772 286h1v1h-1zM275 287h1v1h-1zM381 287h1v1h-1zM773 287h1v1h-1zM276 288h1v1h-1zM379 288h2v1h-2zM774 288h1v1h-1zM276 289h1v1h-1zM378 289h1v1h-1zM775 289h1v1h-1zM277 290h1v1h-1zM377 290h1v1h-1zM776 290h1v1h-1zM278 291h1v1h-1zM375 291h2v1h-2zM777 291h1v1h-1zM279 292h1v1h-1zM374 292h1v1h-1zM778 292h1v1h-1zM280 293h1v1h-1zM373 293h1v1h-1zM779 293h1v1h-1zM281 294h1v1h-1zM371 294h2v1h-2zM780 294h1v1h-1zM282 295h1v1h-1zM370 295h1v1h-1zM781 295h1v1h-1zM283 296h1v1h-1zM369 296h1v1h-1zM782 296h1v1h-1zM284 297h1v1h-1zM367 297h2v1h-2zM783 297h2v1h-2zM285 298h1v1h-1zM366 298h1v1h-1zM785 298h1v1h-1zM286 299h1v1h-1zM364 299h2v1h-2zM786 299h1v1h-1zM287 300h2v1h-2zM362 300h2v1h-2zM787 300h2v1h-2zM289 301h2v1h-2zM360 301h2v1h-2zM789 301h1v1h-1zM291 302h1v1h-1zM357 302h3v1h-3zM790 302h1v1h-1zM292 303h2v1h-2zM355 303h2v1h-2zM791 303h2v1h-2zM294 304h1v1h-1zM352 304h3v1h-3zM793 304h1v1h-1zM295 305h2v1h-2zM350 305h2v1h-2zM794 305h1v1h-1zM297 306h1v1h-1zM349 306h1v1h-1zM795 306h2v1h-2zM298 307h1v1h-1zM347 307h2v1h-2zM797 307h1v1h-1zM299 308h2v1h-2zM346 308h1v1h-1zM798 308h1v1h-1zM301 309h1v1h-1zM345 309h1v1h-1zM799 309h1v1h-1zM302 310h3v1h-3zM343 310h2v1h-2zM800 310h1v1h-1zM305 311h4v1h-4zM342 311h1v1h-1zM801 311h1v1h-1zM309 312h3v1h-3zM341 312h1v1h-1zM802 312h1v1h-1zM312 313h3v1h-3zM339 313h2v1h-2zM802 313h1v1h-1zM315 314h2v1h-2zM338 314h1v1h-1zM803 314h1v1h-1zM317 315h4v1h-4zM337 315h1v1h-1zM804 315h1v1h-1zM321 316h4v1h-4zM335 316h2v1h-2zM805 316h1v1h-1zM325 317h10v1h-10zM806 317h1v1h-1zM807 318h2v1h-2zM809 319h1v1h-1zM810 320h1v1h-1zM811 321h2v1h-2zM813 322h1v1h-1zM814 323h1v1h-1zM815 324h2v1h-2zM817 325h2v1h-2zM819 326h1v1h-1zM820 327h2v1h-2zM822 328h3v1h-3zM825 329h4v1h-4zM835 329h12v1h-12zM829 330h6v1h-6zM847 330h1v1h-1zM848 331h1v1h-1zM849 332h2v1h-2zM851 333h1v1h-1zM852 334h1v1h-1zM853 335h1v1h-1zM854 336h1v1h-1zM855 337h1v1h-1zM855 338h1v1h-1zM856 339h1v1h-1zM857 340h1v1h-1zM858 341h1v1h-1zM858 342h1v1h-1zM859 343h1v1h-1zM860 344h1v1h-1zM861 345h1v1h-1zM861 346h1v1h-1zM862 347h1v1h-1zM863 348h1v1h-1zM863 349h1v1h-1zM864 350h1v1h-1zM865 351h1v1h-1zM866 352h1v1h-1zM866 353h1v1h-1zM867 354h1v1h-1zM868 355h1v1h-1zM869 356h1v1h-1zM869 357h1v1h-1zM870 358h1v1h-1zM871 359h1v1h-1zM872 360h1v1h-1zM873 361h1v1h-1zM874 362h1v1h-1zM874 363h1v1h-1zM875 364h1v1h-1zM876 365h1v1h-1zM877 366h1v1h-1zM878 367h1v1h-1zM879 368h1v1h-1zM880 369h1v1h-1zM880 370h1v1h-1zM881 371h1v1h-1zM882 372h1v1h-1zM883 373h1v1h-1zM884 374h1v1h-1zM884 375h1v1h-1zM885 376h1v1h-1zM886 377h1v1h-1zM887 378h1v1h-1zM888 379h1v1h-1zM889 380h1v1h-1zM890 381h1v1h-1zM891 382h1v1h-1zM1030 382h11v1h-11zM892 383h1v1h-1zM1028 383h2v1h-2zM1041 383h4v1h-4zM893 384h1v1h-1zM1027 384h1v1h-1zM1045 384h4v1h-4zM894 385h1v1h-1zM1025 385h2v1h-2zM1049 385h4v1h-4zM895 386h1v1h-1zM1023 386h2v1h-2zM1053 386h6v1h-6zM896 387h1v1h-1zM1022 387h1v1h-1zM1059 387h4v1h-4zM896 388h1v1h-1zM1021 388h1v1h-1zM1063 388h2v1h-2zM897 389h1v1h-1zM1019 389h2v1h-2zM1065 389h1v1h-1zM898 390h1v1h-1zM1018 390h1v1h-1zM1066 390h1v1h-1zM899 391h1v1h-1zM1017 391h1v1h-1zM1067 391h2v1h-2zM900 392h1v1h-1zM1015 392h2v1h-2zM1069 392h1v1h-1zM900 393h1v1h-1zM1014 393h1v1h-1zM1070 393h2v1h-2zM901 394h1v1h-1zM1012 394h2v1h-2zM1072 394h2v1h-2zM902 395h1v1h-1zM1011 395h1v1h-1zM1074 395h2v1h-2zM1116 395h2v1h-2zM903 396h1v1h-1zM1009 396h2v1h-2zM1076 396h2v1h-2zM1115 396h1v1h-1zM903 397h1v1h-1zM1007 397h2v1h-2zM1078 397h1v1h-1zM1113 397h2v1h-2zM904 398h1v1h-1zM1006 398h1v1h-1zM1079 398h2v1h-2zM1111 398h2v1h-2zM904 399h1v1h-1zM1004 399h2v1h-2zM1081 399h1v1h-1zM1109 399h2v1h-2zM905 400h1v1h-1zM1003 400h1v1h-1zM1082 400h1v1h-1zM1105 400h4v1h-4zM906 401h1v1h-1zM1001 401h2v1h-2zM1083 401h2v1h-2zM1102 401h3v1h-3zM906 402h1v1h-1zM999 402h2v1h-2zM1085 402h1v1h-1zM1100 402h2v1h-2zM907 403h1v1h-1zM998 403h1v1h-1zM1086 403h3v1h-3zM1098 403h2v1h-2zM908 404h1v1h-1zM997 404h1v1h-1zM1089 404h4v1h-4zM1096 404h2v1h-2zM908 405h1v1h-1zM996 405h1v1h-1zM1093 405h3v1h-3zM909 406h1v1h-1zM996 406h1v1h-1zM909 407h1v1h-1zM995 407h1v1h-1zM910 408h1v1h-1zM994 408h1v1h-1zM911 409h1v1h-1zM993 409h1v1h-1zM912 410h1v1h-1zM992 410h1v1h-1zM913 411h1v1h-1zM992 411h1v1h-1zM914 412h1v1h-1zM991 412h1v1h-1zM914 413h1v1h-1zM990 413h1v1h-1zM915 414h1v1h-1zM989 414h1v1h-1zM916 415h1v1h-1zM989 415h1v1h-1zM917 416h1v1h-1zM988 416h1v1h-1zM918 417h1v1h-1zM987 417h1v1h-1zM919 418h1v1h-1zM986 418h1v1h-1zM920 419h1v1h-1zM986 419h1v1h-1zM921 420h1v1h-1zM985 420h1v1h-1zM922 421h1v1h-1zM984 421h1v1h-1zM923 422h1v1h-1zM983 422h1v1h-1zM924 423h1v1h-1zM983 423h1v1h-1zM925 424h1v1h-1zM982 424h1v1h-1zM926 425h1v1h-1zM981 425h1v1h-1zM927 426h1v1h-1zM981 426h1v1h-1zM928 427h1v1h-1zM980 427h1v1h-1zM929 428h1v1h-1zM979 428h1v1h-1zM930 429h1v1h-1zM978 429h1v1h-1zM930 430h1v1h-1zM978 430h1v1h-1zM931 431h1v1h-1zM977 431h1v1h-1zM932 432h1v1h-1zM976 432h1v1h-1zM933 433h1v1h-1zM975 433h1v1h-1zM934 434h1v1h-1zM975 434h1v1h-1zM935 435h1v1h-1zM974 435h1v1h-1zM936 436h1v1h-1zM973 436h1v1h-1zM937 437h1v1h-1zM973 437h1v1h-1zM938 438h1v1h-1zM972 438h1v1h-1zM939 439h1v1h-1zM971 439h1v1h-1zM940 440h1v1h-1zM971 440h1v1h-1zM941 441h1v1h-1zM970 441h1v1h-1zM942 442h1v1h-1zM969 442h1v1h-1zM943 443h1v1h-1zM969 443h1v1h-1zM943 444h1v1h-1zM968 444h1v1h-1zM944 445h1v1h-1zM967 445h1v1h-1zM945 446h1v1h-1zM967 446h1v1h-1zM946 447h1v1h-1zM966 447h1v1h-1zM946 448h1v1h-1zM965 448h1v1h-1zM947 449h1v1h-1zM963 449h2v1h-2zM948 450h1v1h-1zM962 450h1v1h-1zM949 451h1v1h-1zM961 451h1v1h-1zM949 452h1v1h-1zM959 452h2v1h-2zM950 453h9v1h-9z" fill="#ff0000" shape-rendering="crispEdges"/>
<path d="M502 92h2v1h-2zM500 93h2v1h-2zM504 93h2v1h-2zM499 94h1v1h-1zM506 94h2v1h-2zM497 95h2v1h-2zM508 95h2v1h-2zM495 96h2v1h-2zM510 96h5v1h-5zM494 97h1v1h-1zM515 97h5v1h-5zM493 98h1v1h-1zM520 98h2v1h-2zM492 99h1v1h-1zM522 99h2v1h-2zM491 100h1v1h-1zM524 100h2v1h-2zM489 101h2v1h-2zM526 101h2v1h-2zM488 102h1v1h-1zM528 102h3v1h-3zM487 103h1v1h-1zM531 103h2v1h-2zM486 104h1v1h-1zM533 104h3v1h-3zM484 105h2v1h-2zM536 105h3v1h-3zM557 105h3v1h-3zM483 106h1v1h-1zM539 106h2v1h-2zM553 106h4v1h-4zM560 106h3v1h-3zM481 107h2v1h-2zM541 107h12v1h-12zM563 107h2v1h-2zM479 108h2v1h-2zM565 108h2v1h-2zM478 109h1v1h-1zM567 109h1v1h-1zM477 110h1v1h-1zM568 110h1v1h-1zM477 111h1v1h-1zM569 111h1v1h-1zM476 112h1v1h-1zM570 112h1v1h-1zM475 113h1v1h-1zM570 113h1v1h-1zM474 114h1v1h-1zM571 114h1v1h-1zM474 115h1v1h-1zM572 115h1v1h-1zM473 116h1v1h-1zM573 116h1v1h-1zM472 117h1v1h-1zM574 117h1v1h-1zM471 118h1v1h-1zM575 118h1v1h-1zM471 119h1v1h-1zM576 119h1v1h-1zM470 120h1v1h-1zM577 120h1v1h-1zM469 121h1v1h-1zM578 121h1v1h-1zM469 122h1v1h-1zM578 122h1v1h-1zM468 123h1v1h-1zM579 123h1v1h-1zM468 124h1v1h-1zM580 124h1v1h-1zM467 125h1v1h-1zM581 125h1v1h-1zM467 126h1v1h-1zM582 126h1v1h-1zM466 127h1v1h-1zM583 127h1v1h-1zM466 128h1v1h-1zM583 128h1v1h-1zM465 129h1v1h-1zM584 129h1v1h-1zM465 130h1v1h-1zM584 130h1v1h-1zM464 131h1v1h-1zM585 131h1v1h-1zM464 132h1v1h-1zM585 132h1v1h-1zM463 133h1v1h-1zM586 133h1v1h-1zM463 134h1v1h-1zM587 134h1v1h-1zM462 135h1v1h-1zM587 135h1v1h-1zM462 136h1v1h-1zM588 136h1v1h-1zM462 137h1v1h-1zM588 137h1v1h-1zM461 138h1v1h-1zM589 138h1v1h-1zM461 139h1v1h-1zM589 139h1v1h-1zM461 140h1v1h-1zM590 140h1v1h-1zM460 141h1v1h-1zM591 141h1v1h-1zM460 142h1v1h-1zM591 142h1v1h-1zM459 143h1v1h-1zM592 143h1v1h-1zM459 144h1v1h-1zM593 144h1v1h-1zM459 145h1v1h-1zM594 145h1v1h-1zM458 146h1v1h-1zM594 146h1v1h-1zM458 147h1v1h-1zM595 147h1v1h-1zM458 148h1v1h-1zM596 148h1v1h-1zM457 149h1v1h-1zM597 149h1v1h-1zM457 150h1v1h-1zM597 150h1v1h-1zM457 151h1v1h-1zM598 151h1v1h-1zM456 152h1v1h-1zM598 152h1v1h-1zM456 153h1v1h-1zM599 153h1v1h-1zM455 154h1v1h-1zM599 154h1v1h-1zM455 155h1v1h-1zM600 155h1v1h-1zM455 156h1v1h-1zM600 156h1v1h-1zM454 157h1v1h-1zM601 157h1v1h-1zM454 158h1v1h-1zM601 158h1v1h-1zM454 159h1v1h-1zM602 159h1v1h-1zM453 160h1v1h-1zM602 160h1v1h-1zM453 161h1v1h-1zM603 161h1v1h-1zM453 162h1v1h-1zM603 162h1v1h-1zM452 163h1v1h-1zM604 163h1v1h-1zM452 164h1v1h-1zM604 164h1v1h-1zM452 165h1v1h-1zM605 165h1v1h-1zM451 166h1v1h-1zM605 166h1v1h-1zM451 167h1v1h-1zM606 167h1v1h-1zM451 168h1v1h-1zM607 168h1v1h-1zM450 169h1v1h-1zM607 169h1v1h-1zM450 170h1v1h-1zM608 170h1v1h-1zM450 171h1v1h-1zM608 171h1v1h-1zM449 172h1v1h-1zM609 172h1v1h-1zM449 173h1v1h-1zM610 173h1v1h-1zM449 174h1v1h-1zM610 174h1v1h-1zM448 175h1v1h-1zM611 175h1v1h-1zM448 176h1v1h-1zM612 176h1v1h-1zM448 177h1v1h-1zM612 177h1v1h-1zM447 178h1v1h-1zM613 178h1v1h-1zM447 179h1v1h-1zM613 179h1v1h-1zM447 180h1v1h-1zM614 180h1v1h-1zM446 181h1v1h-1zM615 181h2v1h-2zM446 182h1v1h-1zM617 182h1v1h-1zM445 183h1v1h-1zM618 183h1v1h-1zM646 183h9v1h-9zM445 184h1v1h-1zM619 184h2v1h-2zM645 184h1v1h-1zM655 184h1v1h-1zM444 185h1v1h-1zM621 185h1v1h-1zM644 185h1v1h-1zM656 185h1v1h-1zM444 186h1v1h-1zM622 186h3v1h-3zM643 186h1v1h-1zM657 186h2v1h-2zM443 187h1v1h-1zM625 187h4v1h-4zM642 187h1v1h-1zM659 187h1v1h-1zM443 188h1v1h-1zM629 188h3v1h-3zM641 188h1v1h-1zM660 188h1v1h-1zM442 189h1v1h-1zM632 189h3v1h-3zM640 189h1v1h-1zM661 189h1v1h-1zM442 190h1v1h-1zM635 190h2v1h-2zM639 190h1v1h-1zM662 190h1v1h-1zM441 191h1v1h-1zM637 191h2v1h-2zM663 191h1v1h-1zM441 192h1v1h-1zM663 192h1v1h-1zM440 193h1v1h-1zM664 193h1v1h-1zM440 194h1v1h-1zM665 194h1v1h-1zM439 195h1v1h-1zM666 195h1v1h-1zM439 196h1v1h-1zM666 196h1v1h-1zM438 197h1v1h-1zM667 197h1v1h-1zM438 198h1v1h-1zM668 198h1v1h-1zM437 199h1v1h-1zM669 199h1v1h-1zM437 200h1v1h-1zM669 200h1v1h-1zM436 201h1v1h-1zM670 201h1v1h-1zM436 202h1v1h-1zM671 202h1v1h-1zM174 203h3v1h-3zM435 203h1v1h-1zM671 203h1v1h-1zM173 204h1v1h-1zM177 204h4v1h-4zM435 204h1v1h-1zM672 204h1v1h-1zM173 205h1v1h-1zM181 205h6v1h-6zM434 205h1v1h-1zM673 205h1v1h-1zM172 206h1v1h-1zM187 206h4v1h-4zM434 206h1v1h-1zM673 206h1v1h-1zM171 207h1v1h-1zM191 207h1v1h-1zM433 207h1v1h-1zM674 207h1v1h-1zM170 208h1v1h-1zM191 208h1v1h-1zM433 208h1v1h-1zM675 208h1v1h-1zM170 209h1v1h-1zM192 209h1v1h-1zM432 209h1v1h-1zM675 209h1v1h-1zM169 210h1v1h-1zM193 210h1v1h-1zM432 210h1v1h-1zM676 210h1v1h-1zM168 211h1v1h-1zM194 211h1v1h-1zM431 211h1v1h-1zM677 211h1v1h-1zM167 212h1v1h-1zM194 212h1v1h-1zM431 212h1v1h-1zM677 212h1v1h-1zM167 213h1v1h-1zM195 213h1v1h-1zM430 213h1v1h-1zM678 213h1v1h-1zM166 214h1v1h-1zM196 214h1v1h-1zM430 214h1v1h-1zM679 214h1v1h-1zM165 215h1v1h-1zM197 215h1v1h-1zM429 215h1v1h-1zM680 215h1v1h-1zM165 216h1v1h-1zM197 216h1v1h-1zM429 216h1v1h-1zM681 216h1v1h-1zM164 217h1v1h-1zM198 217h1v1h-1zM428 217h1v1h-1zM682 217h1v1h-1zM164 218h1v1h-1zM199 218h2v1h-2zM428 218h1v1h-1zM682 218h1v1h-1zM163 219h1v1h-1zM201 219h1v1h-1zM427 219h1v1h-1zM683 219h1v1h-1zM163 220h1v1h-1zM202 220h1v1h-1zM427 220h1v1h-1zM684 220h1v1h-1zM162 221h1v1h-1zM203 221h2v1h-2zM426 221h1v1h-1zM685 221h1v1h-1zM162 222h1v1h-1zM205 222h1v1h-1zM426 222h1v1h-1zM686 222h3v1h-3zM22 223h2v1h-2zM161 223h1v1h-1zM206 223h1v1h-1zM425 223h1v1h-1zM689 223h4v1h-4zM21 224h1v1h-1zM24 224h3v1h-3zM161 224h1v1h-1zM207 224h1v1h-1zM425 224h1v1h-1zM693 224h3v1h-3zM20 225h1v1h-1zM27 225h2v1h-2zM160 225h1v1h-1zM208 225h1v1h-1zM424 225h1v1h-1zM696 225h3v1h-3zM19 226h1v1h-1zM29 226h2v1h-2zM160 226h1v1h-1zM209 226h1v1h-1zM424 226h1v1h-1zM699 226h2v1h-2zM17 227h2v1h-2zM31 227h1v1h-1zM159 227h1v1h-1zM210 227h1v1h-1zM423 227h1v1h-1zM701 227h3v1h-3zM16 228h1v1h-1zM32 228h1v1h-1zM159 228h1v1h-1zM210 228h1v1h-1zM423 228h1v1h-1zM704 228h3v1h-3zM15 229h1v1h-1zM33 229h1v1h-1zM158 229h1v1h-1zM211 229h1v1h-1zM422 229h1v1h-1zM707 229h2v1h-2zM14 230h1v1h-1zM34 230h1v1h-1zM158 230h1v1h-1zM212 230h1v1h-1zM422 230h1v1h-1zM709 230h3v1h-3zM12 231h2v1h-2zM35 231h1v1h-1zM157 231h1v1h-1zM213 231h1v1h-1zM421 231h1v1h-1zM712 231h3v1h-3zM11 232h1v1h-1zM36 232h1v1h-1zM157 232h1v1h-1zM214 232h1v1h-1zM421 232h1v1h-1zM715 232h2v1h-2zM9 233h2v1h-2zM37 233h1v1h-1zM156 233h1v1h-1zM215 233h1v1h-1zM420 233h1v1h-1zM717 233h4v1h-4zM7 234h2v1h-2zM38 234h1v1h-1zM155 234h1v1h-1zM215 234h1v1h-1zM420 234h1v1h-1zM721 234h4v1h-4zM6 235h1v1h-1zM39 235h1v1h-1zM154 235h1v1h-1zM216 235h1v1h-1zM419 235h1v1h-1zM725 235h2v1h-2zM40 236h1v1h-1zM154 236h1v1h-1zM216 236h1v1h-1zM419 236h1v1h-1zM727 236h1v1h-1zM41 237h1v1h-1zM153 237h1v1h-1zM217 237h1v1h-1zM418 237h1v1h-1zM727 237h1v1h-1zM42 238h1v1h-1zM152 238h1v1h-1zM217 238h1v1h-1zM418 238h1v1h-1zM728 238h1v1h-1zM43 239h1v1h-1zM151 239h1v1h-1zM218 239h1v1h-1zM417 239h1v1h-1zM728 239h1v1h-1zM44 240h1v1h-1zM151 240h1v1h-1zM218 240h1v1h-1zM417 240h1v1h-1zM729 240h1v1h-1zM45 241h1v1h-1zM150 241h1v1h-1zM219 241h1v1h-1zM416 241h1v1h-1zM730 241h1v1h-1zM46 242h1v1h-1zM149 242h1v1h-1zM219 242h1v1h-1zM416 242h1v1h-1zM730 242h1v1h-1zM47 243h1v1h-1zM149 243h1v1h-1zM220 243h1v1h-1zM415 243h1v1h-1zM731 243h1v1h-1zM48 244h1v1h-1zM148 244h1v1h-1zM220 244h1v1h-1zM415 244h1v1h-1zM732 244h1v1h-1zM49 245h1v1h-1zM148 245h1v1h-1zM221 245h1v1h-1zM414 245h1v1h-1zM732 245h1v1h-1zM50 246h1v1h-1zM147 246h1v1h-1zM221 246h1v1h-1zM413 246h1v1h-1zM733 246h1v1h-1zM50 247h1v1h-1zM146 247h1v1h-1zM222 247h1v1h-1zM413 247h1v1h-1zM733 247h1v1h-1zM51 248h1v1h-1zM146 248h1v1h-1zM222 248h1v1h-1zM412 248h1v1h-1zM734 248h1v1h-1zM52 249h1v1h-1zM145 249h1v1h-1zM223 249h1v1h-1zM411 249h1v1h-1zM735 249h1v1h-1zM53 250h1v1h-1zM144 250h1v1h-1zM223 250h1v1h-1zM410 250h1v1h-1zM735 250h1v1h-1zM54 251h1v1h-1zM144 251h1v1h-1zM223 251h1v1h-1zM410 251h1v1h-1zM736 251h1v1h-1zM55 252h2v1h-2zM143 252h1v1h-1zM224 252h1v1h-1zM409 252h1v1h-1zM736 252h1v1h-1zM57 253h1v1h-1zM143 253h1v1h-1zM224 253h1v1h-1zM408 253h1v1h-1zM737 253h1v1h-1zM58 254h1v1h-1zM142 254h1v1h-1zM225 254h1v1h-1zM407 254h1v1h-1zM737 254h1v1h-1zM59 255h2v1h-2zM141 255h1v1h-1zM225 255h1v1h-1zM407 255h1v1h-1zM738 255h1v1h-1zM61 256h1v1h-1zM141 256h1v1h-1zM225 256h1v1h-1zM406 256h1v1h-1zM738 256h1v1h-1zM62 257h1v1h-1zM140 257h1v1h-1zM226 257h1v1h-1zM404 257h2v1h-2zM739 257h1v1h-1zM63 258h2v1h-2zM140 258h1v1h-1zM226 258h1v1h-1zM402 258h2v1h-2zM739 258h1v1h-1zM65 259h1v1h-1zM139 259h1v1h-1zM226 259h1v1h-1zM400 259h2v1h-2zM740 259h1v1h-1zM66 260h1v1h-1zM139 260h1v1h-1zM227 260h1v1h-1zM398 260h2v1h-2zM740 260h1v1h-1zM67 261h2v1h-2zM138 261h1v1h-1zM227 261h1v1h-1zM396 261h2v1h-2zM741 261h1v1h-1zM69 262h1v1h-1zM137 262h1v1h-1zM227 262h1v1h-1zM394 262h2v1h-2zM741 262h1v1h-1zM70 263h1v1h-1zM137 263h1v1h-1zM228 263h1v1h-1zM392 263h2v1h-2zM742 263h1v1h-1zM71 264h1v1h-1zM136 264h1v1h-1zM228 264h1v1h-1zM389 264h3v1h-3zM742 264h1v1h-1zM72 265h1v1h-1zM136 265h1v1h-1zM229 265h1v1h-1zM387 265h2v1h-2zM743 265h1v1h-1zM73 266h2v1h-2zM135 266h1v1h-1zM229 266h1v1h-1zM384 266h3v1h-3zM743 266h1v1h-1zM75 267h1v1h-1zM135 267h1v1h-1zM229 267h1v1h-1zM382 267h2v1h-2zM744 267h1v1h-1zM76 268h1v1h-1zM134 268h1v1h-1zM230 268h1v1h-1zM381 268h1v1h-1zM744 268h1v1h-1zM77 269h1v1h-1zM133 269h1v1h-1zM230 269h1v1h-1zM380 269h1v1h-1zM745 269h1v1h-1zM78 270h5v1h-5zM131 270h2v1h-2zM231 270h1v1h-1zM379 270h1v1h-1zM745 270h1v1h-1zM83 271h5v1h-5zM130 271h1v1h-1zM231 271h1v1h-1zM378 271h1v1h-1zM746 271h1v1h-1zM88 272h2v1h-2zM129 272h1v1h-1zM232 272h1v1h-1zM377 272h1v1h-1zM746 272h1v1h-1zM90 273h2v1h-2zM127 273h2v1h-2zM232 273h1v1h-1zM376 273h1v1h-1zM747 273h1v1h-1zM92 274h2v1h-2zM126 274h1v1h-1zM233 274h1v1h-1zM375 274h1v1h-1zM747 274h1v1h-1zM94 275h3v1h-3zM124 275h2v1h-2zM233 275h1v1h-1zM374 275h1v1h-1zM748 275h1v1h-1zM97 276h4v1h-4zM123 276h1v1h-1zM234 276h1v1h-1zM372 276h2v1h-2zM748 276h1v1h-1zM101 277h4v1h-4zM121 277h2v1h-2zM234 277h1v1h-1zM371 277h1v1h-1zM749 277h1v1h-1zM105 278h4v1h-4zM119 278h2v1h-2zM235 278h1v1h-1zM369 278h2v1h-2zM749 278h1v1h-1zM109 279h10v1h-10zM235 279h1v1h-1zM367 279h2v1h-2zM750 279h1v1h-1zM236 280h1v1h-1zM363 280h4v1h-4zM750 280h1v1h-1zM236 281h1v1h-1zM358 281h5v1h-5zM750 281h1v1h-1zM237 282h1v1h-1zM356 282h2v1h-2zM751 282h1v1h-1zM237 283h1v1h-1zM355 283h1v1h-1zM751 283h1v1h-1zM238 284h1v1h-1zM353 284h2v1h-2zM751 284h1v1h-1zM239 285h1v1h-1zM351 285h2v1h-2zM752 285h1v1h-1zM239 286h1v1h-1zM350 286h1v1h-1zM752 286h1v1h-1zM240 287h1v1h-1zM348 287h2v1h-2zM753 287h1v1h-1zM241 288h1v1h-1zM347 288h1v1h-1zM753 288h1v1h-1zM241 289h1v1h-1zM345 289h2v1h-2zM753 289h1v1h-1zM242 290h1v1h-1zM343 290h2v1h-2zM754 290h1v1h-1zM243 291h1v1h-1zM342 291h1v1h-1zM754 291h1v1h-1zM243 292h1v1h-1zM341 292h1v1h-1zM754 292h1v1h-1zM244 293h1v1h-1zM340 293h1v1h-1zM755 293h1v1h-1zM245 294h1v1h-1zM339 294h1v1h-1zM755 294h1v1h-1zM245 295h1v1h-1zM337 295h2v1h-2zM755 295h1v1h-1zM246 296h1v1h-1zM336 296h1v1h-1zM756 296h1v1h-1zM247 297h1v1h-1zM335 297h1v1h-1zM756 297h1v1h-1zM247 298h1v1h-1zM334 298h1v1h-1zM757 298h1v1h-1zM248 299h1v1h-1zM333 299h1v1h-1zM757 299h1v1h-1zM249 300h1v1h-1zM332 300h1v1h-1zM757 300h1v1h-1zM250 301h1v1h-1zM331 301h1v1h-1zM758 301h1v1h-1zM843 301h4v1h-4zM250 302h1v1h-1zM329 302h2v1h-2zM758 302h1v1h-1zM838 302h5v1h-5zM846 302h1v1h-1zM251 303h1v1h-1zM328 303h1v1h-1zM758 303h1v1h-1zM837 303h1v1h-1zM847 303h1v1h-1zM252 304h1v1h-1zM327 304h1v1h-1zM759 304h1v1h-1zM837 304h1v1h-1zM847 304h1v1h-1zM253 305h1v1h-1zM326 305h1v1h-1zM759 305h1v1h-1zM836 305h1v1h-1zM848 305h1v1h-1zM253 306h1v1h-1zM324 306h2v1h-2zM759 306h1v1h-1zM836 306h1v1h-1zM848 306h1v1h-1zM254 307h1v1h-1zM322 307h2v1h-2zM759 307h1v1h-1zM835 307h1v1h-1zM849 307h1v1h-1zM255 308h1v1h-1zM320 308h2v1h-2zM760 308h1v1h-1zM835 308h1v1h-1zM849 308h1v1h-1zM255 309h1v1h-1zM318 309h2v1h-2zM760 309h1v1h-1zM834 309h1v1h-1zM850 309h1v1h-1zM256 310h1v1h-1zM317 310h1v1h-1zM760 310h1v1h-1zM834 310h1v1h-1zM850 310h1v1h-1zM256 311h1v1h-1zM316 311h1v1h-1zM761 311h1v1h-1zM833 311h1v1h-1zM850 311h1v1h-1zM257 312h1v1h-1zM315 312h1v1h-1zM761 312h1v1h-1zM833 312h1v1h-1zM851 312h1v1h-1zM258 313h1v1h-1zM314 313h1v1h-1zM761 313h1v1h-1zM832 313h1v1h-1zM851 313h1v1h-1zM258 314h1v1h-1zM313 314h1v1h-1zM762 314h1v1h-1zM832 314h1v1h-1zM852 314h1v1h-1zM259 315h1v1h-1zM312 315h1v1h-1zM762 315h1v1h-1zM831 315h1v1h-1zM852 315h1v1h-1zM260 316h1v1h-1zM311 316h1v1h-1zM762 316h1v1h-1zM831 316h1v1h-1zM853 316h1v1h-1zM260 317h1v1h-1zM310 317h1v1h-1zM762 317h1v1h-1zM830 317h1v1h-1zM853 317h1v1h-1zM261 318h1v1h-1zM309 318h1v1h-1zM763 318h1v1h-1zM829 318h1v1h-1zM854 318h1v1h-1zM261 319h1v1h-1zM308 319h1v1h-1zM763 319h1v1h-1zM829 319h1v1h-1zM854 319h1v1h-1zM262 320h1v1h-1zM307 320h1v1h-1zM763 320h1v1h-1zM828 320h1v1h-1zM854 320h1v1h-1zM263 321h1v1h-1zM305 321h2v1h-2zM764 321h1v1h-1zM827 321h1v1h-1zM855 321h1v1h-1zM264 322h1v1h-1zM304 322h1v1h-1zM764 322h1v1h-1zM826 322h1v1h-1zM855 322h1v1h-1zM264 323h1v1h-1zM303 323h1v1h-1zM764 323h1v1h-1zM826 323h1v1h-1zM855 323h1v1h-1zM265 324h1v1h-1zM299 324h4v1h-4zM765 324h1v1h-1zM825 324h1v1h-1zM856 324h1v1h-1zM266 325h1v1h-1zM294 325h5v1h-5zM765 325h1v1h-1zM824 325h1v1h-1zM856 325h1v1h-1zM267 326h1v1h-1zM292 326h2v1h-2zM765 326h1v1h-1zM823 326h1v1h-1zM857 326h1v1h-1zM268 327h1v1h-1zM291 327h1v1h-1zM765 327h1v1h-1zM823 327h1v1h-1zM857 327h1v1h-1zM268 328h1v1h-1zM289 328h2v1h-2zM766 328h1v1h-1zM822 328h1v1h-1zM857 328h1v1h-1zM269 329h1v1h-1zM287 329h2v1h-2zM766 329h1v1h-1zM821 329h1v1h-1zM858 329h1v1h-1zM270 330h1v1h-1zM286 330h1v1h-1zM767 330h1v1h-1zM821 330h1v1h-1zM858 330h1v1h-1zM271 331h2v1h-2zM284 331h2v1h-2zM767 331h1v1h-1zM820 331h1v1h-1zM858 331h1v1h-1zM273 332h2v1h-2zM283 332h1v1h-1zM768 332h1v1h-1zM820 332h1v1h-1zM859 332h1v1h-1zM275 333h1v1h-1zM281 333h2v1h-2zM768 333h1v1h-1zM819 333h1v1h-1zM859 333h1v1h-1zM276 334h2v1h-2zM279 334h2v1h-2zM769 334h1v1h-1zM819 334h1v1h-1zM859 334h1v1h-1zM278 335h1v1h-1zM769 335h1v1h-1zM818 335h1v1h-1zM860 335h1v1h-1zM770 336h1v1h-1zM818 336h1v1h-1zM860 336h1v1h-1zM771 337h1v1h-1zM817 337h1v1h-1zM861 337h1v1h-1zM771 338h1v1h-1zM817 338h1v1h-1zM861 338h1v1h-1zM772 339h1v1h-1zM816 339h1v1h-1zM861 339h1v1h-1zM772 340h1v1h-1zM816 340h1v1h-1zM862 340h1v1h-1zM773 341h1v1h-1zM815 341h1v1h-1zM862 341h1v1h-1zM773 342h1v1h-1zM815 342h1v1h-1zM862 342h1v1h-1zM774 343h1v1h-1zM814 343h1v1h-1zM863 343h1v1h-1zM775 344h1v1h-1zM814 344h1v1h-1zM863 344h1v1h-1zM775 345h1v1h-1zM813 345h1v1h-1zM863 345h1v1h-1zM776 346h1v1h-1zM812 346h1v1h-1zM863 346h1v1h-1zM776 347h1v1h-1zM812 347h1v1h-1zM864 347h1v1h-1zM777 348h1v1h-1zM811 348h1v1h-1zM864 348h1v1h-1zM778 349h1v1h-1zM810 349h1v1h-1zM864 349h1v1h-1zM778 350h1v1h-1zM809 350h1v1h-1zM864 350h1v1h-1zM779 351h1v1h-1zM808 351h1v1h-1zM865 351h1v1h-1zM780 352h1v1h-1zM808 352h1v1h-1zM865 352h1v1h-1zM780 353h1v1h-1zM798 353h5v1h-5zM807 353h1v1h-1zM865 353h1v1h-1zM781 354h1v1h-1zM796 354h2v1h-2zM803 354h4v1h-4zM865 354h1v1h-1zM781 355h1v1h-1zM794 355h2v1h-2zM866 355h1v1h-1zM782 356h5v1h-5zM792 356h2v1h-2zM866 356h1v1h-1zM787 357h5v1h-5zM866 357h1v1h-1zM866 358h1v1h-1zM867 359h1v1h-1zM998 359h9v1h-9zM867 360h1v1h-1zM997 360h1v1h-1zM1007 360h1v1h-1zM867 361h1v1h-1zM995 361h2v1h-2zM1007 361h1v1h-1zM867 362h1v1h-1zM994 362h1v1h-1zM1008 362h1v1h-1zM868 363h1v1h-1zM993 363h1v1h-1zM1009 363h1v1h-1zM868 364h1v1h-1zM991 364h2v1h-2zM1010 364h1v1h-1zM868 365h1v1h-1zM990 365h1v1h-1zM1010 365h1v1h-1zM868 366h1v1h-1zM988 366h2v1h-2zM1011 366h1v1h-1zM869 367h1v1h-1zM986 367h2v1h-2zM1012 367h1v1h-1zM869 368h1v1h-1zM984 368h2v1h-2zM1013 368h1v1h-1zM869 369h1v1h-1zM982 369h2v1h-2zM1013 369h1v1h-1zM869 370h1v1h-1zM981 370h1v1h-1zM1014 370h1v1h-1zM870 371h1v1h-1zM980 371h1v1h-1zM1015 371h1v1h-1zM870 372h1v1h-1zM979 372h1v1h-1zM1016 372h1v1h-1zM870 373h1v1h-1zM978 373h1v1h-1zM1017 373h1v1h-1zM870 374h1v1h-1zM977 374h1v1h-1zM1018 374h1v1h-1zM871 375h1v1h-1zM976 375h1v1h-1zM1018 375h1v1h-1zM1117 375h1v1h-1zM871 376h1v1h-1zM975 376h1v1h-1zM1019 376h1v1h-1zM1117 376h1v1h-1zM871 377h1v1h-1zM974 377h1v1h-1zM1020 377h1v1h-1zM1116 377h1v1h-1zM871 378h1v1h-1zM974 378h1v1h-1zM1021 378h1v1h-1zM1115 378h1v1h-1zM872 379h1v1h-1zM973 379h1v1h-1zM1022 379h1v1h-1zM1114 379h1v1h-1zM872 380h1v1h-1zM973 380h1v1h-1zM1023 380h1v1h-1zM1114 380h1v1h-1zM872 381h1v1h-1zM972 381h1v1h-1zM1024 381h1v1h-1zM1113 381h1v1h-1zM872 382h1v1h-1zM972 382h1v1h-1zM1025 382h2v1h-2zM1112 382h1v1h-1zM873 383h1v1h-1zM971 383h1v1h-1zM1027 383h1v1h-1zM1111 383h1v1h-1zM873 384h1v1h-1zM971 384h1v1h-1zM1028 384h1v1h-1zM1111 384h1v1h-1zM873 385h1v1h-1zM971 385h1v1h-1zM1029 385h1v1h-1zM1110 385h1v1h-1zM873 386h1v1h-1zM970 386h1v1h-1zM1030 386h1v1h-1zM1109 386h1v1h-1zM873 387h1v1h-1zM970 387h1v1h-1zM1031 387h1v1h-1zM1109 387h1v1h-1zM874 388h1v1h-1zM969 388h1v1h-1zM1032 388h1v1h-1zM1108 388h1v1h-1zM874 389h1v1h-1zM969 389h1v1h-1zM1033 389h1v1h-1zM1108 389h1v1h-1zM874 390h1v1h-1zM969 390h1v1h-1zM1034 390h1v1h-1zM1107 390h1v1h-1zM874 391h1v1h-1zM968 391h1v1h-1zM1034 391h1v1h-1zM1107 391h1v1h-1zM875 392h1v1h-1zM968 392h1v1h-1zM1035 392h1v1h-1zM1106 392h1v1h-1zM875 393h1v1h-1zM967 393h1v1h-1zM1036 393h1v1h-1zM1105 393h1v1h-1zM875 394h1v1h-1zM967 394h1v1h-1zM1037 394h1v1h-1zM1105 394h1v1h-1zM875 395h1v1h-1zM966 395h1v1h-1zM1038 395h1v1h-1zM1104 395h1v1h-1zM875 396h1v1h-1zM966 396h1v1h-1zM1039 396h1v1h-1zM1104 396h1v1h-1zM876 397h1v1h-1zM966 397h1v1h-1zM1040 397h1v1h-1zM1103 397h1v1h-1zM876 398h1v1h-1zM965 398h1v1h-1zM1041 398h2v1h-2zM1103 398h1v1h-1zM876 399h1v1h-1zM965 399h1v1h-1zM1043 399h1v1h-1zM1102 399h1v1h-1zM876 400h1v1h-1zM964 400h1v1h-1zM1044 400h1v1h-1zM1101 400h1v1h-1zM877 401h1v1h-1zM964 401h1v1h-1zM1045 401h1v1h-1zM1101 401h1v1h-1zM877 402h1v1h-1zM964 402h1v1h-1zM1046 402h1v1h-1zM1100 402h1v1h-1zM877 403h1v1h-1zM963 403h1v1h-1zM1047 403h1v1h-1zM1100 403h1v1h-1zM877 404h1v1h-1zM963 404h1v1h-1zM1047 404h1v1h-1zM1099 404h1v1h-1zM878 405h1v1h-1zM963 405h1v1h-1zM1048 405h1v1h-1zM1099 405h1v1h-1zM878 406h1v1h-1zM962 406h1v1h-1zM1049 406h1v1h-1zM1098 406h1v1h-1zM878 407h1v1h-1zM962 407h1v1h-1zM1050 407h1v1h-1zM1098 407h1v1h-1zM878 408h1v1h-1zM961 408h1v1h-1zM1050 408h1v1h-1zM1097 408h1v1h-1zM879 409h1v1h-1zM961 409h1v1h-1zM1051 409h1v1h-1zM1097 409h1v1h-1zM879 410h1v1h-1zM961 410h1v1h-1zM1052 410h1v1h-1zM1096 410h1v1h-1zM879 411h1v1h-1zM960 411h1v1h-1zM1053 411h1v1h-1zM1096 411h1v1h-1zM879 412h1v1h-1zM960 412h1v1h-1zM1053 412h1v1h-1zM1095 412h1v1h-1zM880 413h1v1h-1zM960 413h1v1h-1zM1054 413h3v1h-3zM1095 413h1v1h-1zM880 414h1v1h-1zM959 414h1v1h-1zM1057 414h4v1h-4zM1094 414h1v1h-1zM880 415h1v1h-1zM959 415h1v1h-1zM1061 415h4v1h-4zM1077 415h2v1h-2zM1093 415h1v1h-1zM880 416h1v1h-1zM958 416h1v1h-1zM1065 416h4v1h-4zM1073 416h4v1h-4zM1079 416h2v1h-2zM1091 416h2v1h-2zM881 417h1v1h-1zM958 417h1v1h-1zM1069 417h4v1h-4zM1081 417h2v1h-2zM1090 417h1v1h-1zM881 418h1v1h-1zM958 418h1v1h-1zM1083 418h1v1h-1zM1089 418h1v1h-1zM881 419h1v1h-1zM957 419h1v1h-1zM1084 419h2v1h-2zM1087 419h2v1h-2zM881 420h1v1h-1zM957 420h1v1h-1zM1086 420h1v1h-1zM882 421h1v1h-1zM956 421h1v1h-1zM882 422h1v1h-1zM956 422h1v1h-1zM882 423h1v1h-1zM956 423h1v1h-1zM882 424h1v1h-1zM955 424h1v1h-1zM883 425h1v1h-1zM955 425h1v1h-1zM883 426h1v1h-1zM954 426h1v1h-1zM883 427h1v1h-1zM954 427h1v1h-1zM883 428h1v1h-1zM954 428h1v1h-1zM884 429h1v1h-1zM953 429h1v1h-1zM884 430h1v1h-1zM953 430h1v1h-1zM884 431h1v1h-1zM952 431h1v1h-1zM884 432h1v1h-1zM952 432h1v1h-1zM885 433h1v1h-1zM952 433h1v1h-1zM885 434h1v1h-1zM951 434h1v1h-1zM885 435h1v1h-1zM951 435h1v1h-1zM885 436h1v1h-1zM950 436h1v1h-1zM886 437h1v1h-1zM950 437h1v1h-1zM886 438h1v1h-1zM949 438h1v1h-1zM886 439h1v1h-1zM948 439h1v1h-1zM887 440h1v1h-1zM948 440h1v1h-1zM887 441h1v1h-1zM947 441h1v1h-1zM887 442h1v1h-1zM946 442h1v1h-1zM887 443h1v1h-1zM945 443h1v1h-1zM888 444h1v1h-1zM944 444h1v1h-1zM888 445h1v1h-1zM944 445h1v1h-1zM888 446h1v1h-1zM943 446h1v1h-1zM888 447h1v1h-1zM942 447h1v1h-1zM889 448h1v1h-1zM941 448h1v1h-1zM889 449h1v1h-1zM941 449h1v1h-1zM889 450h1v1h-1zM940 450h1v1h-1zM889 451h1v1h-1zM940 451h1v1h-1zM890 452h1v1h-1zM939 452h1v1h-1zM890 453h1v1h-1zM939 453h1v1h-1zM890 454h1v1h-1zM938 454h1v1h-1zM891 455h1v1h-1zM937 455h1v1h-1zM891 456h1v1h-1zM937 456h1v1h-1zM891 457h1v1h-1zM936 457h1v1h-1zM891 458h1v1h-1zM936 458h1v1h-1zM892 459h1v1h-1zM935 459h1v1h-1zM892 460h1v1h-1zM935 460h1v1h-1zM892 461h1v1h-1zM934 461h1v1h-1zM892 462h1v1h-1zM934 462h1v1h-1zM893 463h1v1h-1zM933 463h1v1h-1zM893 464h1v1h-1zM933 464h1v1h-1zM893 465h1v1h-1zM932 465h1v1h-1zM893 466h1v1h-1zM932 466h1v1h-1zM894 467h1v1h-1zM931 467h1v1h-1zM894 468h1v1h-1zM931 468h1v1h-1zM894 469h1v1h-1zM930 469h1v1h-1zM895 470h1v1h-1zM930 470h1v1h-1zM895 471h1v1h-1zM929 471h1v1h-1zM895 472h1v1h-1zM929 472h1v1h-1zM896 473h1v1h-1zM928 473h1v1h-1zM896 474h1v1h-1zM928 474h1v1h-1zM897 475h1v1h-1zM927 475h1v1h-1zM897 476h1v1h-1zM927 476h1v1h-1zM897 477h1v1h-1zM926 477h1v1h-1zM898 478h1v1h-1zM926 478h1v1h-1zM898 479h1v1h-1zM925 479h1v1h-1zM898 480h1v1h-1zM925 480h1v1h-1zM899 481h1v1h-1zM924 481h1v1h-1zM899 482h1v1h-1zM924 482h1v1h-1zM899 483h1v1h-1zM923 483h1v1h-1zM900 484h1v1h-1zM923 484h1v1h-1zM900 485h1v1h-1zM922 485h1v1h-1zM901 486h1v1h-1zM922 486h1v1h-1zM901 487h1v1h-1zM921 487h1v1h-1zM901 488h1v1h-1zM921 488h1v1h-1zM902 489h1v1h-1zM920 489h1v1h-1zM902 490h1v1h-1zM920 490h1v1h-1zM903 491h1v1h-1zM919 491h1v1h-1zM904 492h1v1h-1zM919 492h1v1h-1zM905 493h2v1h-2zM918 493h1v1h-1zM907 494h1v1h-1zM916 494h2v1h-2zM908 495h1v1h-1zM914 495h2v1h-2zM909 496h1v1h-1zM912 496h2v1h-2zM910 497h2v1h-2z" fill="#0000cd" shape-rendering="crispEdges"/>
</g>
<g shape-rendering="crispEdges">
<rect x="6" y="346" width="1416" height="1" fill="#c0c0c0"/>
<rect x="6" y="160" width="1416" height="3" fill="#ff0000"/>
<rect x="6" y="261" width="1416" height="3" fill="#ff0000"/>
<rect x="6" y="325" width="1416" height="3" fill="#00ff00"/>
<rect x="6" y="454" width="1416" height="3" fill="#0000ff"/>
<rect x="6" y="546" width="1416" height="3" fill="#0000ff"/>
</g>
<path d="M9,35 L16,35 L12.5,39 Z" fill="#000"/>
<text x="21.3" y="40" font-family="Liberation Sans, sans-serif" font-size="9.9px" fill="#000" stroke="#000" stroke-width="0.2" textLength="67.15" lengthAdjust="spacingAndGlyphs" text-rendering="geometricPrecision" xml:space="preserve" >USDCHF-,Daily</text>
<text x="95.2" y="40" font-family="Liberation Sans, sans-serif" font-size="9.9px" fill="#000" stroke="#000" stroke-width="0.2" textLength="32.28" lengthAdjust="spacingAndGlyphs" text-rendering="geometricPrecision" xml:space="preserve" >0.99325</text>
<text x="131.25" y="40" font-family="Liberation Sans, sans-serif" font-size="9.9px" fill="#000" stroke="#000" stroke-width="0.2" textLength="32.28" lengthAdjust="spacingAndGlyphs" text-rendering="geometricPrecision" xml:space="preserve" >0.99325</text>
<text x="167.3" y="40" font-family="Liberation Sans, sans-serif" font-size="9.9px" fill="#000" stroke="#000" stroke-width="0.2" textLength="32.28" lengthAdjust="spacingAndGlyphs" text-rendering="geometricPrecision" xml:space="preserve" >0.99158</text>
<text x="203.35" y="40" font-family="Liberation Sans, sans-serif" font-size="9.9px" fill="#000" stroke="#000" stroke-width="0.2" textLength="32.28" lengthAdjust="spacingAndGlyphs" text-rendering="geometricPrecision" xml:space="preserve" >0.99187</text>
<g shape-rendering="crispEdges">
<rect x="1422" y="36" width="2" height="1" fill="#000"/>
<rect x="1422" y="69" width="2" height="1" fill="#000"/>
<rect x="1422" y="102" width="2" height="1" fill="#000"/>
<rect x="1422" y="135" width="2" height="1" fill="#000"/>
<rect x="1422" y="168" width="2" height="1" fill="#000"/>
<rect x="1422" y="201" width="2" height="1" fill="#000"/>
<rect x="1422" y="234" width="2" height="1" fill="#000"/>
<rect x="1422" y="267" width="2" height="1" fill="#000"/>
<rect x="1422" y="300" width="2" height="1" fill="#000"/>
<rect x="1422" y="333" width="2" height="1" fill="#000"/>
<rect x="1422" y="366" width="2" height="1" fill="#000"/>
<rect x="1422" y="399" width="2" height="1" fill="#000"/>
<rect x="1422" y="432" width="2" height="1" fill="#000"/>
<rect x="1422" y="465" width="2" height="1" fill="#000"/>
<rect x="1422" y="498" width="2" height="1" fill="#000"/>
<rect x="1422" y="531" width="2" height="1" fill="#000"/>
<rect x="1422" y="564" width="2" height="1" fill="#000"/>
</g>
<text x="1427.3" y="40" font-family="Liberation Sans, sans-serif" font-size="9.9px" fill="#000" stroke="#000" stroke-width="0.2" textLength="32.28" lengthAdjust="spacingAndGlyphs" text-rendering="geometricPrecision" xml:space="preserve" >1.02570</text>
<text x="1427.3" y="73" font-family="Liberation Sans, sans-serif" font-size="9.9px" fill="#000" stroke="#000" stroke-width="0.2" textLength="32.28" lengthAdjust="spacingAndGlyphs" text-rendering="geometricPrecision" xml:space="preserve" >1.02210</text>
<text x="1427.3" y="106" font-family="Liberation Sans, sans-serif" font-size="9.9px" fill="#000" stroke="#000" stroke-width="0.2" textLength="32.28" lengthAdjust="spacingAndGlyphs" text-rendering="geometricPrecision" xml:space="preserve" >1.01850</text>
<text x="1427.3" y="139" font-family="Liberation Sans, sans-serif" font-size="9.9px" fill="#000" stroke="#000" stroke-width="0.2" textLength="32.28" lengthAdjust="spacingAndGlyphs" text-rendering="geometricPrecision" xml:space="preserve" >1.01490</text>
<text x="1427.3" y="172" font-family="Liberation Sans, sans-serif" font-size="9.9px" fill="#000" stroke="#000" stroke-width="0.2" textLength="31.61" lengthAdjust="spacingAndGlyphs" text-rendering="geometricPrecision" xml:space="preserve" >1.01130</text>
<text x="1427.3" y="205" font-family="Liberation Sans, sans-serif" font-size="9.9px" fill="#000" stroke="#000" stroke-width="0.2" textLength="32.28" lengthAdjust="spacingAndGlyphs" text-rendering="geometricPrecision" xml:space="preserve" >1.00770</text>
<text x="1427.3" y="238" font-family="Liberation Sans, sans-serif" font-size="9.9px" fill="#000" stroke="#000" stroke-width="0.2" textLength="32.28" lengthAdjust="spacingAndGlyphs" text-rendering="geometricPrecision" xml:space="preserve" >1.00410</text>
<text x="1427.3" y="271" font-family="Liberation Sans, sans-serif" font-size="9.9px" fill="#000" stroke="#000" stroke-width="0.2" textLength="32.28" lengthAdjust="spacingAndGlyphs" text-rendering="geometricPrecision" xml:space="preserve" >1.00050</text>
<text x="1427.3" y="304" font-family="Liberation Sans, sans-serif" font-size="9.9px" fill="#000" stroke="#000" stroke-width="0.2" textLength="32.28" lengthAdjust="spacingAndGlyphs" text-rendering="geometricPrecision" xml:space="preserve" >0.99690</text>
<text x="1427.3" y="337" font-family="Liberation Sans, sans-serif" font-size="9.9px" fill="#000" stroke="#000" stroke-width="0.2" textLength="32.28" lengthAdjust="spacingAndGlyphs" text-rendering="geometricPrecision" xml:space="preserve" >0.99330</text>
<text x="1427.3" y="370" font-family="Liberation Sans, sans-serif" font-size="9.9px" fill="#000" stroke="#000" stroke-width="0.2" textLength="32.28" lengthAdjust="spacingAndGlyphs" text-rendering="geometricPrecision" xml:space="preserve" >0.98970</text>
<text x="1427.3" y="403" font-family="Liberation Sans, sans-serif" font-size="9.9px" fill="#000" stroke="#000" stroke-width="0.2" textLength="32.28" lengthAdjust="spacingAndGlyphs" text-rendering="geometricPrecision" xml:space="preserve" >0.98610</text>
<text x="1427.3" y="436" font-family="Liberation Sans, sans-serif" font-size="9.9px" fill="#000" stroke="#000" stroke-width="0.2" textLength="32.28" lengthAdjust="spacingAndGlyphs" text-rendering="geometricPrecision" xml:space="preserve" >0.98250</text>
<text x="1427.3" y="469" font-family="Liberation Sans, sans-serif" font-size="9.9px" fill="#000" stroke="#000" stroke-width="0.2" textLength="32.28" lengthAdjust="spacingAndGlyphs" text-rendering="geometricPrecision" xml:space="preserve" >0.97900</text>
<text x="1427.3" y="502" font-family="Liberation Sans, sans-serif" font-size="9.9px" fill="#000" stroke="#000" stroke-width="0.2" textLength="32.28" lengthAdjust="spacingAndGlyphs" text-rendering="geometricPrecision" xml:space="preserve" >0.97540</text>
<text x="1427.3" y="535" font-family="Liberation Sans, sans-serif" font-size="9.9px" fill="#000" stroke="#000" stroke-width="0.2" textLength="32.28" lengthAdjust="spacingAndGlyphs" text-rendering="geometricPrecision" xml:space="preserve" >0.97180</text>
<text x="1427.3" y="568" font-family="Liberation Sans, sans-serif" font-size="9.9px" fill="#000" stroke="#000" stroke-width="0.2" textLength="32.28" lengthAdjust="spacingAndGlyphs" text-rendering="geometricPrecision" xml:space="preserve" >0.96820</text>
<rect x="1423" y="155" width="41" height="11" fill="#ff0000" shape-rendering="crispEdges"/>
<text x="1427.3" y="164" font-family="Liberation Sans, sans-serif" font-size="9.9px" fill="#fff" stroke="#fff" stroke-width="0.2" textLength="32.28" lengthAdjust="spacingAndGlyphs" text-rendering="geometricPrecision" xml:space="preserve" >1.01205</text>
<rect x="1423" y="256" width="41" height="11" fill="#ff0000" shape-rendering="crispEdges"/>
<text x="1427.3" y="265" font-family="Liberation Sans, sans-serif" font-size="9.9px" fill="#fff" stroke="#fff" stroke-width="0.2" textLength="32.28" lengthAdjust="spacingAndGlyphs" text-rendering="geometricPrecision" xml:space="preserve" >1.00106</text>
<rect x="1423" y="320" width="41" height="11" fill="#00ff00" shape-rendering="crispEdges"/>
<text x="1427.3" y="329" font-family="Liberation Sans, sans-serif" font-size="9.9px" fill="#fff" stroke="#fff" stroke-width="0.2" textLength="32.28" lengthAdjust="spacingAndGlyphs" text-rendering="geometricPrecision" xml:space="preserve" >0.99406</text>
<rect x="1423" y="341" width="41" height="11" fill="#000000" shape-rendering="crispEdges"/>
<text x="1427.3" y="350" font-family="Liberation Sans, sans-serif" font-size="9.9px" fill="#fff" stroke="#fff" stroke-width="0.2" textLength="32.28" lengthAdjust="spacingAndGlyphs" text-rendering="geometricPrecision" xml:space="preserve" >0.99187</text>
<rect x="1423" y="449" width="41" height="11" fill="#0000ff" shape-rendering="crispEdges"/>
<text x="1427.3" y="458" font-family="Liberation Sans, sans-serif" font-size="9.9px" fill="#fff" stroke="#fff" stroke-width="0.2" textLength="32.28" lengthAdjust="spacingAndGlyphs" text-rendering="geometricPrecision" xml:space="preserve" >0.98004</text>
<rect x="1423" y="541" width="41" height="11" fill="#0000ff" shape-rendering="crispEdges"/>
<text x="1427.3" y="550" font-family="Liberation Sans, sans-serif" font-size="9.9px" fill="#fff" stroke="#fff" stroke-width="0.2" textLength="32.28" lengthAdjust="spacingAndGlyphs" text-rendering="geometricPrecision" xml:space="preserve" >0.97001</text>
<g clip-path="url(#cd)">
<g shape-rendering="crispEdges" fill="#c0c0c0">
<rect x="6" y="588" width="1" height="29"/>
<rect x="14" y="589" width="1" height="28"/>
<rect x="22" y="590" width="1" height="27"/>
<rect x="30" y="593" width="1" height="24"/>
<rect x="38" y="596" width="1" height="21"/>
<rect x="46" y="598" width="1" height="19"/>
<rect x="54" y="601" width="1" height="16"/>
<rect x="62" y="603" width="1" height="14"/>
<rect x="70" y="605" width="1" height="12"/>
<rect x="78" y="607" width="1" height="10"/>
<rect x="86" y="608" width="1" height="9"/>
<rect x="94" y="611" width="1" height="6"/>
<rect x="102" y="612" width="1" height="5"/>
<rect x="110" y="613" width="1" height="4"/>
<rect x="118" y="614" width="1" height="3"/>
<rect x="126" y="611" width="1" height="6"/>
<rect x="134" y="610" width="1" height="7"/>
<rect x="142" y="604" width="1" height="13"/>
<rect x="150" y="603" width="1" height="14"/>
<rect x="158" y="601" width="1" height="16"/>
<rect x="166" y="598" width="1" height="19"/>
<rect x="174" y="598" width="1" height="19"/>
<rect x="182" y="601" width="1" height="16"/>
<rect x="190" y="603" width="1" height="14"/>
<rect x="198" y="605" width="1" height="12"/>
<rect x="206" y="607" width="1" height="10"/>
<rect x="214" y="610" width="1" height="7"/>
<rect x="222" y="613" width="1" height="4"/>
<rect x="230" y="616" width="1" height="4"/>
<rect x="238" y="616" width="1" height="9"/>
<rect x="246" y="616" width="1" height="11"/>
<rect x="254" y="616" width="1" height="13"/>
<rect x="262" y="616" width="1" height="16"/>
<rect x="270" y="616" width="1" height="16"/>
<rect x="278" y="616" width="1" height="16"/>
<rect x="286" y="616" width="1" height="16"/>
<rect x="294" y="616" width="1" height="15"/>
<rect x="302" y="616" width="1" height="14"/>
<rect x="310" y="616" width="1" height="11"/>
<rect x="318" y="616" width="1" height="9"/>
<rect x="326" y="616" width="1" height="8"/>
<rect x="334" y="616" width="1" height="6"/>
<rect x="342" y="616" width="1" height="4"/>
<rect x="350" y="616" width="1" height="2"/>
<rect x="358" y="616" width="1" height="2"/>
<rect x="366" y="616" width="1" height="1"/>
<rect x="374" y="615" width="1" height="2"/>
<rect x="382" y="613" width="1" height="4"/>
<rect x="390" y="612" width="1" height="5"/>
<rect x="398" y="611" width="1" height="6"/>
<rect x="406" y="609" width="1" height="8"/>
<rect x="414" y="606" width="1" height="11"/>
<rect x="422" y="602" width="1" height="15"/>
<rect x="430" y="596" width="1" height="21"/>
<rect x="438" y="592" width="1" height="25"/>
<rect x="446" y="589" width="1" height="28"/>
<rect x="454" y="584" width="1" height="33"/>
<rect x="462" y="580" width="1" height="37"/>
<rect x="470" y="578" width="1" height="39"/>
<rect x="478" y="577" width="1" height="40"/>
<rect x="486" y="576" width="1" height="41"/>
<rect x="494" y="577" width="1" height="40"/>
<rect x="502" y="577" width="1" height="40"/>
<rect x="510" y="580" width="1" height="37"/>
<rect x="518" y="580" width="1" height="37"/>
<rect x="526" y="583" width="1" height="34"/>
<rect x="534" y="585" width="1" height="32"/>
<rect x="542" y="587" width="1" height="30"/>
<rect x="550" y="588" width="1" height="29"/>
<rect x="558" y="588" width="1" height="29"/>
<rect x="566" y="592" width="1" height="25"/>
<rect x="574" y="596" width="1" height="21"/>
<rect x="582" y="601" width="1" height="16"/>
<rect x="590" y="609" width="1" height="8"/>
<rect x="598" y="612" width="1" height="5"/>
<rect x="606" y="616" width="1" height="1"/>
<rect x="622" y="616" width="1" height="1"/>
<rect x="630" y="616" width="1" height="1"/>
<rect x="638" y="616" width="1" height="3"/>
<rect x="646" y="616" width="1" height="3"/>
<rect x="654" y="616" width="1" height="4"/>
<rect x="662" y="616" width="1" height="8"/>
<rect x="670" y="616" width="1" height="13"/>
<rect x="678" y="616" width="1" height="15"/>
<rect x="686" y="616" width="1" height="16"/>
<rect x="694" y="616" width="1" height="15"/>
<rect x="702" y="616" width="1" height="13"/>
<rect x="710" y="616" width="1" height="12"/>
<rect x="718" y="616" width="1" height="15"/>
<rect x="726" y="616" width="1" height="18"/>
<rect x="734" y="616" width="1" height="24"/>
<rect x="742" y="616" width="1" height="28"/>
<rect x="750" y="616" width="1" height="30"/>
<rect x="758" y="616" width="1" height="33"/>
<rect x="766" y="616" width="1" height="38"/>
<rect x="774" y="616" width="1" height="39"/>
<rect x="782" y="616" width="1" height="40"/>
<rect x="790" y="616" width="1" height="39"/>
<rect x="798" y="616" width="1" height="36"/>
<rect x="806" y="616" width="1" height="34"/>
<rect x="814" y="616" width="1" height="29"/>
<rect x="822" y="616" width="1" height="24"/>
<rect x="830" y="616" width="1" height="21"/>
<rect x="838" y="616" width="1" height="17"/>
<rect x="846" y="616" width="1" height="18"/>
<rect x="854" y="616" width="1" height="25"/>
<rect x="862" y="616" width="1" height="33"/>
<rect x="870" y="616" width="1" height="40"/>
<rect x="878" y="616" width="1" height="47"/>
<rect x="886" y="616" width="1" height="50"/>
<rect x="894" y="616" width="1" height="50"/>
<rect x="902" y="616" width="1" height="51"/>
<rect x="910" y="616" width="1" height="51"/>
<rect x="918" y="616" width="1" height="48"/>
<rect x="926" y="616" width="1" height="41"/>
<rect x="934" y="616" width="1" height="36"/>
<rect x="942" y="616" width="1" height="31"/>
<rect x="950" y="616" width="1" height="28"/>
<rect x="958" y="616" width="1" height="21"/>
<rect x="966" y="616" width="1" height="15"/>
<rect x="974" y="616" width="1" height="9"/>
<rect x="982" y="616" width="1" height="5"/>
<rect x="990" y="616" width="1" height="4"/>
<rect x="998" y="616" width="1" height="2"/>
<rect x="1006" y="616" width="1" height="5"/>
<rect x="1014" y="616" width="1" height="6"/>
<rect x="1022" y="616" width="1" height="7"/>
<rect x="1030" y="616" width="1" height="6"/>
<rect x="1038" y="616" width="1" height="6"/>
<rect x="1046" y="616" width="1" height="8"/>
<rect x="1054" y="616" width="1" height="9"/>
<rect x="1062" y="616" width="1" height="10"/>
<rect x="1070" y="616" width="1" height="11"/>
<rect x="1078" y="616" width="1" height="10"/>
<rect x="1086" y="616" width="1" height="9"/>
<rect x="1094" y="616" width="1" height="5"/>
<rect x="1110" y="613" width="1" height="4"/>
<rect x="1118" y="611" width="1" height="6"/>
</g>
<path d="M516 578h3v1h-3zM522 578h3v1h-3zM528 578h3v1h-3zM534 578h3v1h-3zM510 579h3v1h-3zM540 579h3v1h-3zM504 580h3v1h-3zM546 580h3v1h-3zM498 581h3v1h-3zM552 581h3v1h-3zM493 582h2v1h-2zM558 582h3v1h-3zM492 583h1v1h-1zM564 583h3v1h-3zM488 584h1v1h-1zM570 584h1v1h-1zM486 585h2v1h-2zM571 585h2v1h-2zM576 586h1v1h-1zM480 587h3v1h-3zM577 587h2v1h-2zM582 588h2v1h-2zM476 589h1v1h-1zM584 589h1v1h-1zM12 590h3v1h-3zM18 590h3v1h-3zM24 590h3v1h-3zM30 590h3v1h-3zM36 590h3v1h-3zM42 590h3v1h-3zM48 590h3v1h-3zM474 590h2v1h-2zM588 590h1v1h-1zM6 591h3v1h-3zM54 591h3v1h-3zM589 591h2v1h-2zM60 592h1v1h-1zM469 592h2v1h-2zM594 592h1v1h-1zM61 593h2v1h-2zM468 593h1v1h-1zM595 593h2v1h-2zM66 594h3v1h-3zM464 594h1v1h-1zM72 595h1v1h-1zM462 595h2v1h-2zM600 595h2v1h-2zM73 596h2v1h-2zM602 596h1v1h-1zM78 597h3v1h-3zM458 597h1v1h-1zM84 598h1v1h-1zM456 598h2v1h-2zM606 598h2v1h-2zM85 599h2v1h-2zM608 599h1v1h-1zM90 600h3v1h-3zM451 600h2v1h-2zM612 600h1v1h-1zM204 601h3v1h-3zM210 601h1v1h-1zM450 601h1v1h-1zM613 601h2v1h-2zM96 602h3v1h-3zM187 602h2v1h-2zM192 602h3v1h-3zM198 602h3v1h-3zM211 602h2v1h-2zM216 602h3v1h-3zM445 602h2v1h-2zM618 602h1v1h-1zM181 603h2v1h-2zM186 603h1v1h-1zM222 603h3v1h-3zM444 603h1v1h-1zM619 603h2v1h-2zM102 604h3v1h-3zM180 604h1v1h-1zM228 604h1v1h-1zM440 604h1v1h-1zM108 605h3v1h-3zM174 605h3v1h-3zM229 605h2v1h-2zM438 605h2v1h-2zM624 605h2v1h-2zM114 606h3v1h-3zM168 606h3v1h-3zM234 606h1v1h-1zM626 606h1v1h-1zM120 607h3v1h-3zM162 607h3v1h-3zM235 607h2v1h-2zM432 607h3v1h-3zM126 608h3v1h-3zM150 608h3v1h-3zM156 608h3v1h-3zM630 608h2v1h-2zM132 609h3v1h-3zM138 609h3v1h-3zM144 609h3v1h-3zM240 609h2v1h-2zM427 609h2v1h-2zM632 609h1v1h-1zM242 610h1v1h-1zM426 610h1v1h-1zM636 610h1v1h-1zM420 611h3v1h-3zM637 611h2v1h-2zM246 612h2v1h-2zM414 612h3v1h-3zM642 612h1v1h-1zM248 613h1v1h-1zM409 613h2v1h-2zM643 613h2v1h-2zM252 614h1v1h-1zM408 614h1v1h-1zM648 614h1v1h-1zM253 615h2v1h-2zM402 615h3v1h-3zM649 615h2v1h-2zM258 616h1v1h-1zM396 616h3v1h-3zM654 616h3v1h-3zM259 617h2v1h-2zM390 617h3v1h-3zM660 617h1v1h-1zM385 618h2v1h-2zM661 618h2v1h-2zM264 619h3v1h-3zM384 619h1v1h-1zM666 619h3v1h-3zM378 620h3v1h-3zM672 620h3v1h-3zM270 621h2v1h-2zM372 621h3v1h-3zM678 621h3v1h-3zM1117 621h1v1h-1zM272 622h1v1h-1zM366 622h3v1h-3zM684 622h1v1h-1zM1038 622h3v1h-3zM1044 622h3v1h-3zM1050 622h3v1h-3zM1056 622h3v1h-3zM1116 622h1v1h-1zM276 623h1v1h-1zM361 623h2v1h-2zM685 623h2v1h-2zM1027 623h2v1h-2zM1032 623h3v1h-3zM1062 623h3v1h-3zM1110 623h3v1h-3zM277 624h2v1h-2zM360 624h1v1h-1zM690 624h3v1h-3zM1021 624h2v1h-2zM1026 624h1v1h-1zM1068 624h3v1h-3zM1074 624h3v1h-3zM1080 624h3v1h-3zM1092 624h3v1h-3zM1098 624h3v1h-3zM1104 624h3v1h-3zM282 625h1v1h-1zM354 625h3v1h-3zM696 625h3v1h-3zM1020 625h1v1h-1zM1086 625h3v1h-3zM283 626h2v1h-2zM348 626h3v1h-3zM702 626h3v1h-3zM1016 626h1v1h-1zM288 627h1v1h-1zM342 627h3v1h-3zM708 627h3v1h-3zM714 627h1v1h-1zM1014 627h2v1h-2zM289 628h2v1h-2zM337 628h2v1h-2zM715 628h2v1h-2zM720 628h1v1h-1zM294 629h3v1h-3zM331 629h2v1h-2zM336 629h1v1h-1zM721 629h2v1h-2zM1008 629h3v1h-3zM300 630h3v1h-3zM306 630h3v1h-3zM312 630h3v1h-3zM318 630h3v1h-3zM324 630h3v1h-3zM330 630h1v1h-1zM726 630h3v1h-3zM732 631h1v1h-1zM1003 631h2v1h-2zM733 632h2v1h-2zM738 632h1v1h-1zM1002 632h1v1h-1zM739 633h2v1h-2zM744 633h1v1h-1zM998 633h1v1h-1zM745 634h2v1h-2zM996 634h2v1h-2zM750 635h3v1h-3zM756 636h1v1h-1zM992 636h1v1h-1zM757 637h2v1h-2zM990 637h2v1h-2zM762 638h1v1h-1zM763 639h2v1h-2zM768 640h1v1h-1zM985 640h2v1h-2zM769 641h2v1h-2zM984 641h1v1h-1zM774 642h2v1h-2zM859 642h2v1h-2zM864 642h3v1h-3zM776 643h1v1h-1zM853 643h2v1h-2zM858 643h1v1h-1zM870 643h3v1h-3zM980 643h1v1h-1zM852 644h1v1h-1zM876 644h3v1h-3zM979 644h1v1h-1zM780 645h2v1h-2zM846 645h3v1h-3zM882 645h1v1h-1zM978 645h1v1h-1zM782 646h1v1h-1zM841 646h2v1h-2zM883 646h2v1h-2zM786 647h3v1h-3zM840 647h1v1h-1zM888 647h1v1h-1zM974 647h1v1h-1zM792 648h1v1h-1zM834 648h3v1h-3zM889 648h2v1h-2zM972 648h2v1h-2zM793 649h2v1h-2zM829 649h2v1h-2zM894 649h2v1h-2zM798 650h3v1h-3zM828 650h1v1h-1zM896 650h1v1h-1zM804 651h3v1h-3zM810 651h3v1h-3zM816 651h3v1h-3zM822 651h3v1h-3zM967 651h2v1h-2zM900 652h2v1h-2zM966 652h1v1h-1zM902 653h1v1h-1zM962 654h1v1h-1zM906 655h2v1h-2zM960 655h2v1h-2zM908 656h1v1h-1zM955 657h2v1h-2zM912 658h3v1h-3zM954 658h1v1h-1zM949 659h2v1h-2zM918 660h3v1h-3zM948 660h1v1h-1zM924 661h1v1h-1zM942 661h3v1h-3zM925 662h2v1h-2zM930 662h3v1h-3zM936 662h3v1h-3z" fill="#ff0000" shape-rendering="crispEdges"/>
</g>
<text x="10.2" y="582" font-family="Liberation Sans, sans-serif" font-size="9.9px" fill="#000" stroke="#000" stroke-width="0.2" textLength="151.33" lengthAdjust="spacingAndGlyphs" text-rendering="geometricPrecision" xml:space="preserve" >MACD(12,26,9) 0.000749 -0.000726</text>
<g shape-rendering="crispEdges" fill="#000">
<rect x="1422" y="571" width="1" height="1"/><rect x="1422" y="616" width="1" height="1"/><rect x="1422" y="671" width="1" height="1"/>
</g>
<text x="1425.3" y="580" font-family="Liberation Sans, sans-serif" font-size="9.9px" fill="#000" stroke="#000" stroke-width="0.2" textLength="32.28" lengthAdjust="spacingAndGlyphs" text-rendering="geometricPrecision" xml:space="preserve" >0.00613</text>
<text x="1425.3" y="620" font-family="Liberation Sans, sans-serif" font-size="9.9px" fill="#000" stroke="#000" stroke-width="0.2" textLength="17.38" lengthAdjust="spacingAndGlyphs" text-rendering="geometricPrecision" xml:space="preserve" >0.00</text>
<text x="1425.3" y="670" font-family="Liberation Sans, sans-serif" font-size="9.9px" fill="#000" stroke="#000" stroke-width="0.2" textLength="40.21" lengthAdjust="spacingAndGlyphs" text-rendering="geometricPrecision" xml:space="preserve" >-0.007612</text>
<g clip-path="url(#cr)">
<g shape-rendering="crispEdges">
<line x1="7" y1="714.5" x2="1421" y2="714.5" stroke="#b4b4b4" stroke-width="1" stroke-dasharray="3,3"/>
<line x1="7" y1="765.5" x2="1421" y2="765.5" stroke="#b4b4b4" stroke-width="1" stroke-dasharray="3,3"/>
</g>
<path d="M454 700h13v1h-13zM452 701h2v1h-2zM467 701h4v1h-4zM451 702h1v1h-1zM471 702h2v1h-2zM449 703h2v1h-2zM473 703h2v1h-2zM430 704h2v1h-2zM447 704h2v1h-2zM475 704h1v1h-1zM429 705h1v1h-1zM432 705h3v1h-3zM445 705h2v1h-2zM476 705h2v1h-2zM483 705h13v1h-13zM427 706h2v1h-2zM435 706h2v1h-2zM441 706h4v1h-4zM478 706h5v1h-5zM496 706h3v1h-3zM426 707h1v1h-1zM437 707h4v1h-4zM499 707h2v1h-2zM425 708h1v1h-1zM501 708h2v1h-2zM423 709h2v1h-2zM503 709h1v1h-1zM422 710h1v1h-1zM504 710h1v1h-1zM420 711h2v1h-2zM505 711h1v1h-1zM419 712h1v1h-1zM506 712h1v1h-1zM518 712h1v1h-1zM417 713h2v1h-2zM507 713h1v1h-1zM516 713h2v1h-2zM519 713h1v1h-1zM415 714h2v1h-2zM508 714h1v1h-1zM514 714h2v1h-2zM520 714h1v1h-1zM142 715h1v1h-1zM414 715h1v1h-1zM509 715h1v1h-1zM512 715h2v1h-2zM521 715h1v1h-1zM557 715h2v1h-2zM141 716h1v1h-1zM143 716h1v1h-1zM413 716h1v1h-1zM510 716h2v1h-2zM522 716h1v1h-1zM553 716h4v1h-4zM558 716h1v1h-1zM141 717h1v1h-1zM144 717h1v1h-1zM412 717h1v1h-1zM523 717h1v1h-1zM550 717h3v1h-3zM559 717h1v1h-1zM140 718h1v1h-1zM144 718h1v1h-1zM411 718h1v1h-1zM524 718h1v1h-1zM548 718h2v1h-2zM559 718h1v1h-1zM139 719h1v1h-1zM145 719h1v1h-1zM410 719h1v1h-1zM525 719h1v1h-1zM547 719h1v1h-1zM560 719h1v1h-1zM139 720h1v1h-1zM146 720h1v1h-1zM166 720h1v1h-1zM410 720h1v1h-1zM526 720h2v1h-2zM545 720h2v1h-2zM560 720h1v1h-1zM138 721h1v1h-1zM147 721h1v1h-1zM164 721h2v1h-2zM167 721h1v1h-1zM409 721h1v1h-1zM528 721h2v1h-2zM543 721h2v1h-2zM561 721h1v1h-1zM137 722h1v1h-1zM148 722h1v1h-1zM162 722h2v1h-2zM168 722h1v1h-1zM408 722h1v1h-1zM530 722h2v1h-2zM541 722h2v1h-2zM561 722h1v1h-1zM137 723h1v1h-1zM148 723h1v1h-1zM160 723h2v1h-2zM169 723h1v1h-1zM407 723h1v1h-1zM532 723h2v1h-2zM537 723h4v1h-4zM561 723h1v1h-1zM6 724h13v1h-13zM136 724h1v1h-1zM149 724h1v1h-1zM155 724h5v1h-5zM170 724h1v1h-1zM406 724h1v1h-1zM534 724h3v1h-3zM562 724h1v1h-1zM19 725h4v1h-4zM135 725h1v1h-1zM150 725h5v1h-5zM171 725h1v1h-1zM404 725h2v1h-2zM562 725h1v1h-1zM23 726h1v1h-1zM126 726h5v1h-5zM135 726h1v1h-1zM172 726h1v1h-1zM402 726h2v1h-2zM563 726h1v1h-1zM1102 726h5v1h-5zM24 727h1v1h-1zM125 727h1v1h-1zM131 727h4v1h-4zM173 727h1v1h-1zM379 727h16v1h-16zM400 727h2v1h-2zM563 727h1v1h-1zM1100 727h2v1h-2zM1107 727h5v1h-5zM25 728h1v1h-1zM125 728h1v1h-1zM174 728h1v1h-1zM374 728h5v1h-5zM395 728h5v1h-5zM563 728h1v1h-1zM1098 728h2v1h-2zM1112 728h2v1h-2zM26 729h1v1h-1zM124 729h1v1h-1zM175 729h1v1h-1zM373 729h1v1h-1zM564 729h1v1h-1zM1096 729h2v1h-2zM1114 729h2v1h-2zM26 730h1v1h-1zM124 730h1v1h-1zM176 730h1v1h-1zM372 730h1v1h-1zM564 730h1v1h-1zM973 730h6v1h-6zM1094 730h2v1h-2zM1116 730h2v1h-2zM27 731h1v1h-1zM123 731h1v1h-1zM176 731h1v1h-1zM371 731h1v1h-1zM565 731h1v1h-1zM971 731h2v1h-2zM979 731h4v1h-4zM1093 731h1v1h-1zM28 732h1v1h-1zM123 732h1v1h-1zM177 732h1v1h-1zM369 732h2v1h-2zM565 732h1v1h-1zM968 732h3v1h-3zM983 732h1v1h-1zM1093 732h1v1h-1zM29 733h1v1h-1zM122 733h1v1h-1zM178 733h1v1h-1zM368 733h1v1h-1zM566 733h1v1h-1zM958 733h10v1h-10zM984 733h1v1h-1zM1092 733h1v1h-1zM30 734h2v1h-2zM121 734h1v1h-1zM179 734h1v1h-1zM334 734h5v1h-5zM347 734h5v1h-5zM367 734h1v1h-1zM566 734h1v1h-1zM957 734h1v1h-1zM985 734h1v1h-1zM1092 734h1v1h-1zM32 735h3v1h-3zM45 735h3v1h-3zM121 735h1v1h-1zM180 735h1v1h-1zM333 735h1v1h-1zM339 735h8v1h-8zM352 735h3v1h-3zM365 735h2v1h-2zM567 735h1v1h-1zM957 735h1v1h-1zM986 735h1v1h-1zM1091 735h1v1h-1zM35 736h2v1h-2zM41 736h4v1h-4zM48 736h3v1h-3zM85 736h2v1h-2zM120 736h1v1h-1zM180 736h1v1h-1zM310 736h2v1h-2zM332 736h1v1h-1zM355 736h2v1h-2zM361 736h4v1h-4zM568 736h1v1h-1zM838 736h1v1h-1zM956 736h1v1h-1zM986 736h1v1h-1zM998 736h1v1h-1zM1090 736h1v1h-1zM37 737h4v1h-4zM51 737h2v1h-2zM67 737h6v1h-6zM83 737h2v1h-2zM87 737h1v1h-1zM120 737h1v1h-1zM181 737h1v1h-1zM187 737h5v1h-5zM309 737h1v1h-1zM312 737h3v1h-3zM331 737h1v1h-1zM357 737h4v1h-4zM569 737h1v1h-1zM836 737h2v1h-2zM839 737h1v1h-1zM955 737h1v1h-1zM987 737h1v1h-1zM996 737h2v1h-2zM999 737h1v1h-1zM1090 737h1v1h-1zM53 738h14v1h-14zM73 738h4v1h-4zM80 738h3v1h-3zM87 738h1v1h-1zM119 738h1v1h-1zM182 738h5v1h-5zM192 738h3v1h-3zM309 738h1v1h-1zM315 738h2v1h-2zM329 738h2v1h-2zM570 738h1v1h-1zM834 738h2v1h-2zM839 738h1v1h-1zM954 738h1v1h-1zM988 738h1v1h-1zM994 738h2v1h-2zM1000 738h1v1h-1zM1089 738h1v1h-1zM77 739h3v1h-3zM88 739h1v1h-1zM102 739h2v1h-2zM119 739h1v1h-1zM195 739h2v1h-2zM308 739h1v1h-1zM317 739h4v1h-4zM328 739h1v1h-1zM571 739h1v1h-1zM814 739h5v1h-5zM832 739h2v1h-2zM840 739h1v1h-1zM954 739h1v1h-1zM989 739h1v1h-1zM992 739h2v1h-2zM1000 739h1v1h-1zM1030 739h3v1h-3zM1088 739h1v1h-1zM89 740h1v1h-1zM101 740h1v1h-1zM104 740h3v1h-3zM117 740h2v1h-2zM197 740h11v1h-11zM307 740h1v1h-1zM321 740h4v1h-4zM327 740h1v1h-1zM572 740h1v1h-1zM702 740h2v1h-2zM813 740h1v1h-1zM819 740h13v1h-13zM840 740h1v1h-1zM926 740h2v1h-2zM953 740h1v1h-1zM990 740h2v1h-2zM1001 740h1v1h-1zM1029 740h1v1h-1zM1033 740h4v1h-4zM1088 740h1v1h-1zM90 741h1v1h-1zM100 741h1v1h-1zM107 741h2v1h-2zM113 741h4v1h-4zM208 741h3v1h-3zM306 741h1v1h-1zM325 741h2v1h-2zM573 741h1v1h-1zM621 741h6v1h-6zM646 741h2v1h-2zM700 741h2v1h-2zM704 741h2v1h-2zM813 741h1v1h-1zM841 741h1v1h-1zM925 741h1v1h-1zM928 741h3v1h-3zM952 741h1v1h-1zM1002 741h1v1h-1zM1027 741h2v1h-2zM1037 741h2v1h-2zM1078 741h3v1h-3zM1087 741h1v1h-1zM90 742h1v1h-1zM99 742h1v1h-1zM109 742h4v1h-4zM211 742h2v1h-2zM306 742h1v1h-1zM574 742h1v1h-1zM619 742h2v1h-2zM627 742h4v1h-4zM645 742h1v1h-1zM648 742h2v1h-2zM698 742h2v1h-2zM706 742h2v1h-2zM812 742h1v1h-1zM841 742h1v1h-1zM925 742h1v1h-1zM931 742h2v1h-2zM939 742h6v1h-6zM951 742h1v1h-1zM1003 742h1v1h-1zM1026 742h1v1h-1zM1039 742h1v1h-1zM1077 742h1v1h-1zM1081 742h4v1h-4zM1087 742h1v1h-1zM91 743h1v1h-1zM98 743h1v1h-1zM213 743h2v1h-2zM305 743h1v1h-1zM575 743h2v1h-2zM616 743h3v1h-3zM631 743h2v1h-2zM643 743h2v1h-2zM650 743h2v1h-2zM696 743h2v1h-2zM708 743h2v1h-2zM811 743h1v1h-1zM842 743h1v1h-1zM924 743h1v1h-1zM933 743h6v1h-6zM945 743h4v1h-4zM951 743h1v1h-1zM1004 743h1v1h-1zM1025 743h1v1h-1zM1040 743h1v1h-1zM1075 743h2v1h-2zM1085 743h2v1h-2zM92 744h1v1h-1zM97 744h1v1h-1zM215 744h2v1h-2zM304 744h1v1h-1zM577 744h2v1h-2zM614 744h2v1h-2zM633 744h2v1h-2zM642 744h1v1h-1zM652 744h2v1h-2zM694 744h2v1h-2zM710 744h1v1h-1zM811 744h1v1h-1zM843 744h1v1h-1zM924 744h1v1h-1zM949 744h2v1h-2zM1004 744h1v1h-1zM1023 744h2v1h-2zM1041 744h2v1h-2zM1074 744h1v1h-1zM93 745h1v1h-1zM96 745h1v1h-1zM217 745h1v1h-1zM293 745h4v1h-4zM303 745h1v1h-1zM579 745h1v1h-1zM612 745h2v1h-2zM635 745h1v1h-1zM641 745h1v1h-1zM654 745h1v1h-1zM693 745h1v1h-1zM711 745h1v1h-1zM810 745h1v1h-1zM843 745h1v1h-1zM923 745h1v1h-1zM1005 745h1v1h-1zM1019 745h4v1h-4zM1043 745h1v1h-1zM1073 745h1v1h-1zM93 746h1v1h-1zM95 746h1v1h-1zM218 746h1v1h-1zM291 746h2v1h-2zM297 746h4v1h-4zM303 746h1v1h-1zM580 746h2v1h-2zM611 746h1v1h-1zM636 746h2v1h-2zM639 746h2v1h-2zM655 746h1v1h-1zM692 746h1v1h-1zM711 746h1v1h-1zM809 746h1v1h-1zM844 746h1v1h-1zM922 746h1v1h-1zM1006 746h13v1h-13zM1044 746h1v1h-1zM1071 746h2v1h-2zM94 747h1v1h-1zM219 747h2v1h-2zM288 747h3v1h-3zM301 747h2v1h-2zM582 747h1v1h-1zM609 747h2v1h-2zM638 747h1v1h-1zM655 747h1v1h-1zM691 747h1v1h-1zM712 747h1v1h-1zM809 747h1v1h-1zM844 747h1v1h-1zM922 747h1v1h-1zM1045 747h1v1h-1zM1059 747h12v1h-12zM221 748h1v1h-1zM283 748h5v1h-5zM583 748h1v1h-1zM598 748h5v1h-5zM607 748h2v1h-2zM656 748h1v1h-1zM690 748h1v1h-1zM713 748h1v1h-1zM808 748h1v1h-1zM845 748h1v1h-1zM921 748h1v1h-1zM1046 748h13v1h-13zM222 749h1v1h-1zM277 749h6v1h-6zM584 749h1v1h-1zM597 749h1v1h-1zM603 749h4v1h-4zM657 749h1v1h-1zM689 749h1v1h-1zM714 749h1v1h-1zM798 749h3v1h-3zM807 749h1v1h-1zM845 749h1v1h-1zM920 749h1v1h-1zM223 750h1v1h-1zM273 750h4v1h-4zM584 750h1v1h-1zM596 750h1v1h-1zM657 750h1v1h-1zM688 750h1v1h-1zM714 750h1v1h-1zM797 750h1v1h-1zM801 750h4v1h-4zM807 750h1v1h-1zM846 750h1v1h-1zM920 750h1v1h-1zM223 751h1v1h-1zM270 751h3v1h-3zM585 751h1v1h-1zM595 751h1v1h-1zM658 751h1v1h-1zM687 751h1v1h-1zM715 751h1v1h-1zM795 751h2v1h-2zM805 751h2v1h-2zM847 751h1v1h-1zM919 751h1v1h-1zM224 752h1v1h-1zM246 752h5v1h-5zM268 752h2v1h-2zM586 752h1v1h-1zM594 752h1v1h-1zM659 752h1v1h-1zM686 752h1v1h-1zM716 752h1v1h-1zM794 752h1v1h-1zM847 752h1v1h-1zM919 752h1v1h-1zM224 753h1v1h-1zM245 753h1v1h-1zM251 753h5v1h-5zM267 753h1v1h-1zM587 753h1v1h-1zM594 753h1v1h-1zM659 753h1v1h-1zM684 753h2v1h-2zM717 753h1v1h-1zM793 753h1v1h-1zM848 753h1v1h-1zM918 753h1v1h-1zM225 754h1v1h-1zM244 754h1v1h-1zM256 754h3v1h-3zM265 754h2v1h-2zM588 754h1v1h-1zM593 754h1v1h-1zM660 754h1v1h-1zM683 754h1v1h-1zM717 754h1v1h-1zM791 754h2v1h-2zM848 754h1v1h-1zM917 754h1v1h-1zM226 755h1v1h-1zM243 755h1v1h-1zM259 755h2v1h-2zM263 755h2v1h-2zM588 755h1v1h-1zM592 755h1v1h-1zM661 755h1v1h-1zM681 755h2v1h-2zM718 755h3v1h-3zM790 755h1v1h-1zM849 755h1v1h-1zM916 755h1v1h-1zM226 756h1v1h-1zM241 756h2v1h-2zM261 756h2v1h-2zM589 756h1v1h-1zM591 756h1v1h-1zM661 756h1v1h-1zM679 756h2v1h-2zM721 756h4v1h-4zM789 756h1v1h-1zM850 756h1v1h-1zM915 756h1v1h-1zM227 757h1v1h-1zM240 757h1v1h-1zM590 757h1v1h-1zM662 757h3v1h-3zM677 757h2v1h-2zM725 757h2v1h-2zM788 757h1v1h-1zM850 757h1v1h-1zM914 757h1v1h-1zM228 758h1v1h-1zM239 758h1v1h-1zM665 758h4v1h-4zM673 758h4v1h-4zM727 758h1v1h-1zM787 758h1v1h-1zM851 758h1v1h-1zM914 758h1v1h-1zM228 759h1v1h-1zM237 759h2v1h-2zM669 759h4v1h-4zM728 759h1v1h-1zM785 759h2v1h-2zM852 759h1v1h-1zM894 759h5v1h-5zM913 759h1v1h-1zM229 760h1v1h-1zM235 760h2v1h-2zM729 760h1v1h-1zM784 760h1v1h-1zM852 760h1v1h-1zM893 760h1v1h-1zM899 760h6v1h-6zM912 760h1v1h-1zM229 761h1v1h-1zM232 761h3v1h-3zM730 761h1v1h-1zM774 761h5v1h-5zM783 761h1v1h-1zM853 761h1v1h-1zM891 761h2v1h-2zM905 761h4v1h-4zM911 761h1v1h-1zM230 762h2v1h-2zM730 762h1v1h-1zM750 762h2v1h-2zM773 762h1v1h-1zM779 762h4v1h-4zM853 762h1v1h-1zM890 762h1v1h-1zM909 762h2v1h-2zM731 763h1v1h-1zM748 763h2v1h-2zM752 763h3v1h-3zM772 763h1v1h-1zM854 763h2v1h-2zM889 763h1v1h-1zM732 764h1v1h-1zM746 764h2v1h-2zM755 764h2v1h-2zM771 764h1v1h-1zM856 764h2v1h-2zM887 764h2v1h-2zM733 765h1v1h-1zM744 765h2v1h-2zM757 765h2v1h-2zM770 765h1v1h-1zM858 765h2v1h-2zM886 765h1v1h-1zM734 766h10v1h-10zM759 766h2v1h-2zM770 766h1v1h-1zM860 766h2v1h-2zM885 766h1v1h-1zM761 767h2v1h-2zM769 767h1v1h-1zM862 767h5v1h-5zM883 767h2v1h-2zM763 768h1v1h-1zM768 768h1v1h-1zM867 768h5v1h-5zM882 768h1v1h-1zM764 769h2v1h-2zM767 769h1v1h-1zM872 769h3v1h-3zM881 769h1v1h-1zM766 770h1v1h-1zM875 770h2v1h-2zM879 770h2v1h-2zM877 771h2v1h-2z" fill="#1e90ff" shape-rendering="crispEdges"/>
</g>
<text x="10.2" y="687" font-family="Liberation Sans, sans-serif" font-size="9.9px" fill="#000" stroke="#000" stroke-width="0.2" textLength="68.28" lengthAdjust="spacingAndGlyphs" text-rendering="geometricPrecision" xml:space="preserve" >RSI(14) 56.4535</text>
<g shape-rendering="crispEdges" fill="#000">
<rect x="1422" y="676" width="1" height="1"/><rect x="1422" y="803" width="1" height="1"/>
</g>
<text x="1425.3" y="685" font-family="Liberation Sans, sans-serif" font-size="9.9px" fill="#000" stroke="#000" stroke-width="0.2" textLength="14.90" lengthAdjust="spacingAndGlyphs" text-rendering="geometricPrecision" xml:space="preserve" >100</text>
<text x="1424.3" y="718" font-family="Liberation Sans, sans-serif" font-size="9.9px" fill="#000" stroke="#000" stroke-width="0.2" textLength="9.93" lengthAdjust="spacingAndGlyphs" text-rendering="geometricPrecision" xml:space="preserve" >70</text>
<text x="1424.3" y="769" font-family="Liberation Sans, sans-serif" font-size="9.9px" fill="#000" stroke="#000" stroke-width="0.2" textLength="9.93" lengthAdjust="spacingAndGlyphs" text-rendering="geometricPrecision" xml:space="preserve" >30</text>
<text x="1425.3" y="801" font-family="Liberation Sans, sans-serif" font-size="9.9px" fill="#000" stroke="#000" stroke-width="0.2" textLength="4.97" lengthAdjust="spacingAndGlyphs" text-rendering="geometricPrecision" xml:space="preserve" >0</text>
<g shape-rendering="crispEdges" fill="#000">
<rect x="6" y="805" width="1" height="3"/>
<rect x="70" y="805" width="1" height="3"/>
<rect x="134" y="805" width="1" height="3"/>
<rect x="198" y="805" width="1" height="3"/>
<rect x="262" y="805" width="1" height="3"/>
<rect x="326" y="805" width="1" height="3"/>
<rect x="390" y="805" width="1" height="3"/>
<rect x="454" y="805" width="1" height="3"/>
<rect x="518" y="805" width="1" height="3"/>
<rect x="582" y="805" width="1" height="3"/>
<rect x="646" y="805" width="1" height="3"/>
<rect x="710" y="805" width="1" height="3"/>
<rect x="774" y="805" width="1" height="3"/>
<rect x="838" y="805" width="1" height="3"/>
<rect x="902" y="805" width="1" height="3"/>
<rect x="966" y="805" width="1" height="3"/>
<rect x="1030" y="805" width="1" height="3"/>
<rect x="1094" y="805" width="1" height="3"/>
</g>
<text x="5.5" y="817" font-family="Liberation Sans, sans-serif" font-size="9.9px" fill="#000" stroke="#000" stroke-width="0.2" textLength="51.25" lengthAdjust="spacingAndGlyphs" text-rendering="geometricPrecision" xml:space="preserve" >15 Feb 2019</text>
<text x="69.5" y="817" font-family="Liberation Sans, sans-serif" font-size="9.9px" fill="#000" stroke="#000" stroke-width="0.2" textLength="51.25" lengthAdjust="spacingAndGlyphs" text-rendering="geometricPrecision" xml:space="preserve" >25 Feb 2019</text>
<text x="133.5" y="817" font-family="Liberation Sans, sans-serif" font-size="9.9px" fill="#000" stroke="#000" stroke-width="0.2" textLength="46.17" lengthAdjust="spacingAndGlyphs" text-rendering="geometricPrecision" xml:space="preserve" >6 Mar 2019</text>
<text x="197.5" y="817" font-family="Liberation Sans, sans-serif" font-size="9.9px" fill="#000" stroke="#000" stroke-width="0.2" textLength="51.25" lengthAdjust="spacingAndGlyphs" text-rendering="geometricPrecision" xml:space="preserve" >15 Mar 2019</text>
<text x="261.5" y="817" font-family="Liberation Sans, sans-serif" font-size="9.9px" fill="#000" stroke="#000" stroke-width="0.2" textLength="51.25" lengthAdjust="spacingAndGlyphs" text-rendering="geometricPrecision" xml:space="preserve" >25 Mar 2019</text>
<text x="325.5" y="817" font-family="Liberation Sans, sans-serif" font-size="9.9px" fill="#000" stroke="#000" stroke-width="0.2" textLength="44.15" lengthAdjust="spacingAndGlyphs" text-rendering="geometricPrecision" xml:space="preserve" >3 Apr 2019</text>
<text x="389.5" y="817" font-family="Liberation Sans, sans-serif" font-size="9.9px" fill="#000" stroke="#000" stroke-width="0.2" textLength="49.23" lengthAdjust="spacingAndGlyphs" text-rendering="geometricPrecision" xml:space="preserve" >12 Apr 2019</text>
<text x="453.5" y="817" font-family="Liberation Sans, sans-serif" font-size="9.9px" fill="#000" stroke="#000" stroke-width="0.2" textLength="49.23" lengthAdjust="spacingAndGlyphs" text-rendering="geometricPrecision" xml:space="preserve" >23 Apr 2019</text>
<text x="517.5" y="817" font-family="Liberation Sans, sans-serif" font-size="9.9px" fill="#000" stroke="#000" stroke-width="0.2" textLength="47.69" lengthAdjust="spacingAndGlyphs" text-rendering="geometricPrecision" xml:space="preserve" >2 May 2019</text>
<text x="581.5" y="817" font-family="Liberation Sans, sans-serif" font-size="9.9px" fill="#000" stroke="#000" stroke-width="0.2" textLength="52.77" lengthAdjust="spacingAndGlyphs" text-rendering="geometricPrecision" xml:space="preserve" >12 May 2019</text>
<text x="645.5" y="817" font-family="Liberation Sans, sans-serif" font-size="9.9px" fill="#000" stroke="#000" stroke-width="0.2" textLength="52.77" lengthAdjust="spacingAndGlyphs" text-rendering="geometricPrecision" xml:space="preserve" >21 May 2019</text>
<text x="709.5" y="817" font-family="Liberation Sans, sans-serif" font-size="9.9px" fill="#000" stroke="#000" stroke-width="0.2" textLength="52.77" lengthAdjust="spacingAndGlyphs" text-rendering="geometricPrecision" xml:space="preserve" >30 May 2019</text>
<text x="773.5" y="817" font-family="Liberation Sans, sans-serif" font-size="9.9px" fill="#000" stroke="#000" stroke-width="0.2" textLength="45.17" lengthAdjust="spacingAndGlyphs" text-rendering="geometricPrecision" xml:space="preserve" >9 Jun 2019</text>
<text x="837.5" y="817" font-family="Liberation Sans, sans-serif" font-size="9.9px" fill="#000" stroke="#000" stroke-width="0.2" textLength="50.24" lengthAdjust="spacingAndGlyphs" text-rendering="geometricPrecision" xml:space="preserve" >18 Jun 2019</text>
<text x="901.5" y="817" font-family="Liberation Sans, sans-serif" font-size="9.9px" fill="#000" stroke="#000" stroke-width="0.2" textLength="50.24" lengthAdjust="spacingAndGlyphs" text-rendering="geometricPrecision" xml:space="preserve" >27 Jun 2019</text>
<text x="965.5" y="817" font-family="Liberation Sans, sans-serif" font-size="9.9px" fill="#000" stroke="#000" stroke-width="0.2" textLength="42.12" lengthAdjust="spacingAndGlyphs" text-rendering="geometricPrecision" xml:space="preserve" >7 Jul 2019</text>
<text x="1029.5" y="817" font-family="Liberation Sans, sans-serif" font-size="9.9px" fill="#000" stroke="#000" stroke-width="0.2" textLength="47.20" lengthAdjust="spacingAndGlyphs" text-rendering="geometricPrecision" xml:space="preserve" >16 Jul 2019</text>
<text x="1093.5" y="817" font-family="Liberation Sans, sans-serif" font-size="9.9px" fill="#000" stroke="#000" stroke-width="0.2" textLength="47.20" lengthAdjust="spacingAndGlyphs" text-rendering="geometricPrecision" xml:space="preserve" >25 Jul 2019</text>
<text x="9" y="16" font-family="Liberation Sans, sans-serif" font-size="10px" fill="#404040"  textLength="12.78" lengthAdjust="spacingAndGlyphs" text-rendering="geometricPrecision" xml:space="preserve" >H4</text>
<text x="38" y="16" font-family="Liberation Sans, sans-serif" font-size="10px" fill="#404040"  textLength="12.78" lengthAdjust="spacingAndGlyphs" text-rendering="geometricPrecision" xml:space="preserve" >D1</text>
<text x="65" y="16" font-family="Liberation Sans, sans-serif" font-size="10px" fill="#404040"  textLength="15.00" lengthAdjust="spacingAndGlyphs" text-rendering="geometricPrecision" xml:space="preserve" >W1</text>
<text x="92" y="16" font-family="Liberation Sans, sans-serif" font-size="10px" fill="#404040"  textLength="15.55" lengthAdjust="spacingAndGlyphs" text-rendering="geometricPrecision" xml:space="preserve" >MN</text>
<text x="18" y="842" font-family="Liberation Sans, sans-serif" font-size="12px" fill="#6d6d6d"  textLength="84.67" lengthAdjust="spacingAndGlyphs" text-rendering="geometricPrecision" xml:space="preserve" >EURUSD-,Daily</text>
<text x="125" y="842" font-family="Liberation Sans, sans-serif" font-size="12px" fill="#6d6d6d"  textLength="87.13" lengthAdjust="spacingAndGlyphs" text-rendering="geometricPrecision" xml:space="preserve" >AUDUSD-,Daily</text>
<text x="235" y="842" font-family="Liberation Sans, sans-serif" font-size="12px" fill="#000"  textLength="84.00" lengthAdjust="spacingAndGlyphs" text-rendering="geometricPrecision" xml:space="preserve" >USDCHF-,Daily</text>
<text x="342" y="842" font-family="Liberation Sans, sans-serif" font-size="12px" fill="#6d6d6d"  textLength="86.62" lengthAdjust="spacingAndGlyphs" text-rendering="geometricPrecision" xml:space="preserve" >USDCAD-,Daily</text>
<text x="451" y="842" font-family="Liberation Sans, sans-serif" font-size="12px" fill="#6d6d6d"  textLength="88.58" lengthAdjust="spacingAndGlyphs" text-rendering="geometricPrecision" xml:space="preserve" >USDCNH-,Daily</text>
<text x="562" y="842" font-family="Liberation Sans, sans-serif" font-size="12px" fill="#6d6d6d"  textLength="97.41" lengthAdjust="spacingAndGlyphs" text-rendering="geometricPrecision" xml:space="preserve" >EURCHF-,Weekly</text>
<text x="683" y="842" font-family="Liberation Sans, sans-serif" font-size="12px" fill="#6d6d6d"  textLength="100.32" lengthAdjust="spacingAndGlyphs" text-rendering="geometricPrecision" xml:space="preserve" >XAUUSD-,Weekly</text>
<text x="806" y="842" font-family="Liberation Sans, sans-serif" font-size="12px" fill="#6d6d6d"  textLength="73.79" lengthAdjust="spacingAndGlyphs" text-rendering="geometricPrecision" xml:space="preserve" >GBPUSD-,H1</text>
<text x="902" y="842" font-family="Liberation Sans, sans-serif" font-size="12px" fill="#6d6d6d"  textLength="57.25" lengthAdjust="spacingAndGlyphs" text-rendering="geometricPrecision" xml:space="preserve" >UKOil-,H1</text>
<text x="981" y="842" font-family="Liberation Sans, sans-serif" font-size="12px" fill="#6d6d6d"  textLength="83.46" lengthAdjust="spacingAndGlyphs" text-rendering="geometricPrecision" xml:space="preserve" >USDX-,Weekly</text>
</svg>
</body></html>
